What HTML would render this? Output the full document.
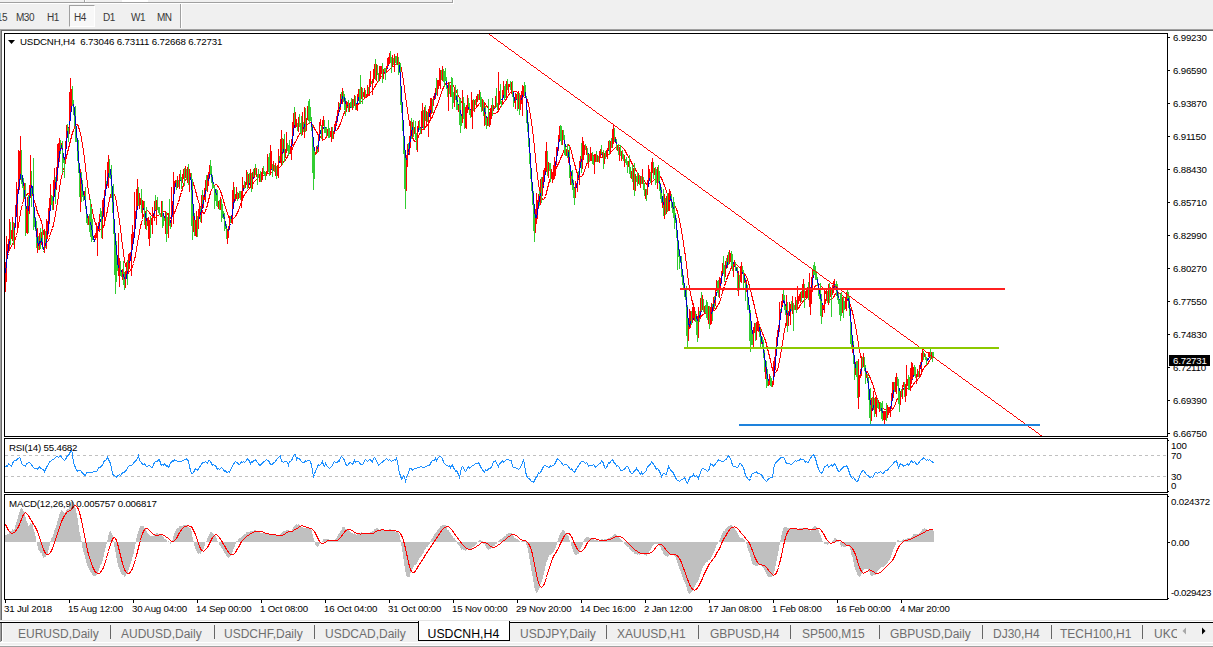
<!DOCTYPE html>
<html><head><meta charset="utf-8"><title>USDCNH,H4</title>
<style>
html,body{margin:0;padding:0}
body{width:1213px;height:647px;overflow:hidden;background:#f0f0f0;position:relative;font-family:"Liberation Sans",sans-serif;color:#000}
.abs{position:absolute}
.t{position:absolute;white-space:pre;font-size:9.7px;line-height:10px;height:10px;letter-spacing:-0.19px}
.tb{position:absolute;white-space:pre;font-size:10px;line-height:12px;height:12px;color:#383838;letter-spacing:-0.5px}
.tab{position:absolute;white-space:pre;font-size:12px;line-height:14px;height:14px;top:626.7px;color:#6e6e6e}
.sep{position:absolute;top:625px;width:1px;height:14px;background:#666}
svg{position:absolute;left:0;top:0}
</style></head><body>
<!-- toolbar -->
<div class="abs" style="left:0;top:2px;width:453px;height:1px;background:#a0a0a0"></div>
<div class="abs" style="left:0;top:3px;width:454px;height:1px;background:#fff"></div>
<div class="abs" style="left:452px;top:0;width:1px;height:3px;background:#a0a0a0"></div>
<div class="abs" style="left:453px;top:0;width:1px;height:4px;background:#fff"></div>
<div class="abs" style="left:84px;top:0;width:1px;height:2px;background:#a0a0a0"></div>
<div class="abs" style="left:85px;top:0;width:1px;height:2px;background:#fff"></div>
<div class="abs" style="left:122px;top:0;width:26px;height:2px;background:#fff"></div>
<div class="abs" style="left:180px;top:4px;width:1px;height:24px;background:#a0a0a0"></div>
<div class="abs" style="left:181px;top:4px;width:1px;height:24px;background:#fff"></div>
<div class="abs" style="left:69px;top:5px;width:24px;height:20px;background:#f8f8f8;border:1px solid;border-color:#a0a0a0 #fff #fff #a0a0a0"></div>
<div class="tb" style="left:-11px;top:12px">M15</div>
<div class="tb" style="left:16px;top:12px">M30</div>
<div class="tb" style="left:47px;top:12px">H1</div>
<div class="tb" style="left:74px;top:12px">H4</div>
<div class="tb" style="left:103px;top:12px">D1</div>
<div class="tb" style="left:131px;top:12px">W1</div>
<div class="tb" style="left:157px;top:12px">MN</div>
<!-- chart window frame -->
<div class="abs" style="left:0;top:29px;width:1213px;height:591px;background:#fff"></div>
<div class="abs" style="left:0;top:29px;width:1213px;height:1px;background:#a0a0a0"></div>
<div class="abs" style="left:1px;top:30px;width:1212px;height:1px;background:#696969"></div>
<div class="abs" style="left:0;top:29px;width:1px;height:591px;background:#a0a0a0"></div>
<div class="abs" style="left:1px;top:30px;width:1px;height:590px;background:#696969"></div>
<div class="abs" style="left:0;top:620px;width:1213px;height:1px;background:#e3e3e3"></div>
<div class="abs" style="left:0;top:621px;width:1213px;height:1px;background:#fff"></div>
<!-- tabs strip -->
<div class="abs" style="left:0;top:622px;width:1213px;height:1px;background:#000"></div>
<div class="abs" style="left:0;top:642px;width:1213px;height:1px;background:#fff"></div>
<div class="abs" style="left:0;top:645px;width:1213px;height:1px;background:#fafafa"></div>
<div class="abs" style="left:0;top:646px;width:1213px;height:1px;background:#a0a0a0"></div>
<div class="abs" style="left:0;top:623px;width:1px;height:19px;background:#a0a0a0"></div>
<div class="abs" style="left:1px;top:623px;width:1px;height:18px;background:#696969"></div>
<div class="abs" style="left:2px;top:623px;width:1px;height:19px;background:#fff"></div>
<div class="abs" style="left:418px;top:621px;width:90px;height:19px;background:#fff;border:1px solid #000;border-top:none"></div>
<div class="tab" style="left:18px">EURUSD,Daily</div><div class="sep" style="left:110px"></div>
<div class="tab" style="left:121px">AUDUSD,Daily</div><div class="sep" style="left:214px"></div>
<div class="tab" style="left:224px">USDCHF,Daily</div><div class="sep" style="left:314px"></div>
<div class="tab" style="left:325px">USDCAD,Daily</div>
<div class="tab" style="left:427.5px;color:#000;font-size:12.3px">USDCNH,H4</div>
<div class="tab" style="left:520px">USDJPY,Daily</div><div class="sep" style="left:606px"></div>
<div class="tab" style="left:617px">XAUUSD,H1</div><div class="sep" style="left:698px"></div>
<div class="tab" style="left:710px">GBPUSD,H4</div><div class="sep" style="left:790px"></div>
<div class="tab" style="left:802px">SP500,M15</div><div class="sep" style="left:879px"></div>
<div class="tab" style="left:890px">GBPUSD,Daily</div><div class="sep" style="left:982px"></div>
<div class="tab" style="left:993px">DJ30,H4</div><div class="sep" style="left:1051px"></div>
<div class="tab" style="left:1060px">TECH100,H1</div><div class="sep" style="left:1142px"></div>
<div class="tab" style="left:1154px;width:23px;overflow:hidden">UKOIL</div>
<svg width="1213" height="647" viewBox="0 0 1213 647" shape-rendering="crispEdges">
<g fill="none" stroke="#000" stroke-width="1">
<path d="M4.5 33.5H1167.5V436.5H4.5Z"/>
<path d="M4.5 438.5H1167.5V492.5H4.5Z"/>
<path d="M4.5 494.5H1167.5V599.5H4.5Z"/>
<path d="M1168 37.5h2M1168 70.5h2M1168 103.5h2M1168 136.5h2M1168 169.5h2M1168 202.5h2M1168 235.5h2M1168 268.5h2M1168 301.5h2M1168 334.5h2M1168 367.5h2M1168 400.5h2M1168 433.5h2"/>
<path d="M1168 440.5h1M1168 491.5h1M1168 496.5h1M1168 542.5h2M1168 598.5h1"/>
<path d="M5.5 600v3M69.5 600v3M133.5 600v3M197.5 600v3M261.5 600v3M325.5 600v3M389.5 600v3M453.5 600v3M517.5 600v3M581.5 600v3M645.5 600v3M709.5 600v3M773.5 600v3M837.5 600v3M901.5 600v3"/>
</g>
<path d="M5 455.5H1167M5 476.5H1167" stroke="#c0c0c0" stroke-width="1" stroke-dasharray="3 3" fill="none"/>
<polyline points="5.5,273.5 6.5,262.5 7.5,256.5 8.5,246.5 9.5,241.5 10.5,239.5 11.5,236.5 12.5,233.5 13.5,234.5 14.5,230.5 15.5,224.5 16.5,210.5 17.5,198.5 18.5,190.5 19.5,183.5 20.5,174.5 21.5,173.5 22.5,176.5 23.5,186.5 24.5,190.5 25.5,202.5 26.5,209.5 27.5,213.5 28.5,211.5 29.5,201.5 30.5,191.5 31.5,185.5 32.5,186.5 33.5,201.5 34.5,211.5 35.5,224.5 36.5,233.5 37.5,239.5 38.5,246.5 39.5,241.5 40.5,243.5 41.5,238.5 42.5,244.5 43.5,249.5 44.5,249.5 45.5,246.5 46.5,239.5 47.5,235.5 48.5,226.5 49.5,216.5 50.5,205.5 51.5,201.5 52.5,203.5 53.5,201.5 54.5,192.5 55.5,185.5 56.5,178.5 57.5,172.5 58.5,162.5 59.5,153.5 60.5,148.5 61.5,145.5 62.5,150.5 63.5,154.5 64.5,160.5 65.5,154.5 66.5,143.5 67.5,133.5 68.5,129.5 69.5,125.5 70.5,117.5 71.5,106.5 72.5,102.5 73.5,104.5 74.5,109.5 75.5,121.5 76.5,130.5 77.5,144.5 78.5,156.5 79.5,169.5 80.5,175.5 81.5,180.5 82.5,186.5 83.5,194.5 84.5,196.5 85.5,202.5 86.5,209.5 87.5,218.5 88.5,219.5 89.5,221.5 90.5,222.5 91.5,227.5 92.5,232.5 93.5,238.5 94.5,240.5 95.5,238.5 96.5,235.5 97.5,232.5 98.5,229.5 99.5,223.5 100.5,219.5 101.5,220.5 102.5,219.5 103.5,213.5 104.5,201.5 105.5,191.5 106.5,186.5 107.5,181.5 108.5,173.5 109.5,170.5 110.5,169.5 111.5,180.5 112.5,191.5 113.5,211.5 114.5,225.5 115.5,240.5 116.5,249.5 117.5,260.5 118.5,268.5 119.5,268.5 120.5,269.5 121.5,271.5 122.5,274.5 123.5,274.5 124.5,279.5 125.5,280.5 126.5,277.5 127.5,271.5 128.5,267.5 129.5,263.5 130.5,258.5 131.5,253.5 132.5,247.5 133.5,241.5 134.5,234.5 135.5,224.5 136.5,214.5 137.5,206.5 138.5,203.5 139.5,201.5 140.5,201.5 141.5,204.5 142.5,206.5 143.5,208.5 144.5,211.5 145.5,214.5 146.5,221.5 147.5,221.5 148.5,223.5 149.5,222.5 150.5,222.5 151.5,221.5 152.5,218.5 153.5,216.5 154.5,211.5 155.5,209.5 156.5,205.5 157.5,206.5 158.5,207.5 159.5,211.5 160.5,214.5 161.5,211.5 162.5,212.5 163.5,213.5 164.5,218.5 165.5,218.5 166.5,218.5 167.5,221.5 168.5,222.5 169.5,223.5 170.5,221.5 171.5,219.5 172.5,211.5 173.5,198.5 174.5,190.5 175.5,183.5 176.5,182.5 177.5,182.5 178.5,184.5 179.5,181.5 180.5,180.5 181.5,178.5 182.5,179.5 183.5,176.5 184.5,175.5 185.5,172.5 186.5,174.5 187.5,173.5 188.5,175.5 189.5,177.5 190.5,177.5 191.5,182.5 192.5,196.5 193.5,210.5 194.5,220.5 195.5,221.5 196.5,222.5 197.5,222.5 198.5,220.5 199.5,216.5 200.5,215.5 201.5,209.5 202.5,208.5 203.5,200.5 204.5,197.5 205.5,190.5 206.5,187.5 207.5,183.5 208.5,181.5 209.5,174.5 210.5,173.5 211.5,174.5 212.5,179.5 213.5,184.5 214.5,188.5 215.5,190.5 216.5,195.5 217.5,199.5 218.5,203.5 219.5,206.5 220.5,206.5 221.5,208.5 222.5,211.5 223.5,214.5 224.5,219.5 225.5,222.5 226.5,228.5 227.5,230.5 228.5,231.5 229.5,226.5 230.5,223.5 231.5,219.5 232.5,213.5 233.5,204.5 234.5,199.5 235.5,197.5 236.5,196.5 237.5,195.5 238.5,195.5 239.5,195.5 240.5,195.5 241.5,195.5 242.5,192.5 243.5,189.5 244.5,187.5 245.5,186.5 246.5,183.5 247.5,182.5 248.5,181.5 249.5,183.5 250.5,179.5 251.5,180.5 252.5,177.5 253.5,178.5 254.5,174.5 255.5,174.5 256.5,173.5 257.5,174.5 258.5,175.5 259.5,175.5 260.5,177.5 261.5,176.5 262.5,174.5 263.5,172.5 264.5,172.5 265.5,174.5 266.5,174.5 267.5,170.5 268.5,168.5 269.5,169.5 270.5,170.5 271.5,169.5 272.5,167.5 273.5,167.5 274.5,168.5 275.5,168.5 276.5,170.5 277.5,168.5 278.5,165.5 279.5,161.5 280.5,159.5 281.5,157.5 282.5,154.5 283.5,149.5 284.5,151.5 285.5,150.5 286.5,151.5 287.5,147.5 288.5,147.5 289.5,149.5 290.5,150.5 291.5,147.5 292.5,140.5 293.5,131.5 294.5,125.5 295.5,124.5 296.5,125.5 297.5,126.5 298.5,125.5 299.5,125.5 300.5,125.5 301.5,129.5 302.5,129.5 303.5,129.5 304.5,124.5 305.5,124.5 306.5,120.5 307.5,117.5 308.5,116.5 309.5,116.5 310.5,118.5 311.5,122.5 312.5,131.5 313.5,142.5 314.5,151.5 315.5,153.5 316.5,151.5 317.5,149.5 318.5,144.5 319.5,137.5 320.5,130.5 321.5,130.5 322.5,129.5 323.5,128.5 324.5,125.5 325.5,128.5 326.5,131.5 327.5,131.5 328.5,130.5 329.5,132.5 330.5,134.5 331.5,134.5 332.5,134.5 333.5,133.5 334.5,132.5 335.5,127.5 336.5,123.5 337.5,118.5 338.5,113.5 339.5,109.5 340.5,104.5 341.5,102.5 342.5,96.5 343.5,97.5 344.5,97.5 345.5,104.5 346.5,105.5 347.5,106.5 348.5,104.5 349.5,105.5 350.5,107.5 351.5,107.5 352.5,106.5 353.5,106.5 354.5,102.5 355.5,103.5 356.5,103.5 357.5,104.5 358.5,97.5 359.5,95.5 360.5,95.5 361.5,94.5 362.5,94.5 363.5,94.5 364.5,95.5 365.5,95.5 366.5,95.5 367.5,93.5 368.5,91.5 369.5,87.5 370.5,85.5 371.5,82.5 372.5,82.5 373.5,80.5 374.5,76.5 375.5,74.5 376.5,71.5 377.5,73.5 378.5,74.5 379.5,76.5 380.5,74.5 381.5,70.5 382.5,71.5 383.5,72.5 384.5,73.5 385.5,71.5 386.5,70.5 387.5,67.5 388.5,64.5 389.5,60.5 390.5,58.5 391.5,59.5 392.5,61.5 393.5,63.5 394.5,63.5 395.5,62.5 396.5,62.5 397.5,61.5 398.5,62.5 399.5,65.5 400.5,78.5 401.5,92.5 402.5,111.5 403.5,128.5 404.5,143.5 405.5,155.5 406.5,160.5 407.5,156.5 408.5,152.5 409.5,145.5 410.5,138.5 411.5,133.5 412.5,127.5 413.5,129.5 414.5,128.5 415.5,132.5 416.5,134.5 417.5,134.5 418.5,130.5 419.5,126.5 420.5,128.5 421.5,128.5 422.5,126.5 423.5,124.5 424.5,120.5 425.5,119.5 426.5,115.5 427.5,118.5 428.5,117.5 429.5,115.5 430.5,110.5 431.5,106.5 432.5,104.5 433.5,100.5 434.5,98.5 435.5,93.5 436.5,92.5 437.5,89.5 438.5,88.5 439.5,84.5 440.5,80.5 441.5,77.5 442.5,74.5 443.5,75.5 444.5,75.5 445.5,77.5 446.5,81.5 447.5,88.5 448.5,89.5 449.5,90.5 450.5,88.5 451.5,92.5 452.5,94.5 453.5,98.5 454.5,95.5 455.5,96.5 456.5,96.5 457.5,102.5 458.5,105.5 459.5,107.5 460.5,110.5 461.5,116.5 462.5,113.5 463.5,112.5 464.5,109.5 465.5,113.5 466.5,112.5 467.5,109.5 468.5,107.5 469.5,108.5 470.5,110.5 471.5,111.5 472.5,107.5 473.5,104.5 474.5,102.5 475.5,103.5 476.5,102.5 477.5,100.5 478.5,98.5 479.5,95.5 480.5,97.5 481.5,101.5 482.5,105.5 483.5,108.5 484.5,108.5 485.5,114.5 486.5,118.5 487.5,120.5 488.5,121.5 489.5,118.5 490.5,115.5 491.5,111.5 492.5,110.5 493.5,109.5 494.5,108.5 495.5,105.5 496.5,105.5 497.5,105.5 498.5,103.5 499.5,99.5 500.5,98.5 501.5,99.5 502.5,100.5 503.5,95.5 504.5,92.5 505.5,92.5 506.5,90.5 507.5,88.5 508.5,85.5 509.5,86.5 510.5,86.5 511.5,85.5 512.5,89.5 513.5,93.5 514.5,99.5 515.5,101.5 516.5,98.5 517.5,97.5 518.5,96.5 519.5,100.5 520.5,101.5 521.5,100.5 522.5,95.5 523.5,92.5 524.5,90.5 525.5,92.5 526.5,103.5 527.5,115.5 528.5,131.5 529.5,144.5 530.5,160.5 531.5,175.5 532.5,187.5 533.5,198.5 534.5,209.5 535.5,218.5 536.5,218.5 537.5,212.5 538.5,204.5 539.5,199.5 540.5,193.5 541.5,193.5 542.5,189.5 543.5,185.5 544.5,178.5 545.5,171.5 546.5,167.5 547.5,167.5 548.5,166.5 549.5,167.5 550.5,169.5 551.5,172.5 552.5,175.5 553.5,173.5 554.5,169.5 555.5,166.5 556.5,158.5 557.5,153.5 558.5,145.5 559.5,139.5 560.5,135.5 561.5,136.5 562.5,136.5 563.5,137.5 564.5,140.5 565.5,147.5 566.5,151.5 567.5,153.5 568.5,152.5 569.5,161.5 570.5,167.5 571.5,176.5 572.5,179.5 573.5,185.5 574.5,188.5 575.5,188.5 576.5,186.5 577.5,181.5 578.5,178.5 579.5,171.5 580.5,165.5 581.5,159.5 582.5,157.5 583.5,154.5 584.5,150.5 585.5,148.5 586.5,148.5 587.5,152.5 588.5,154.5 589.5,157.5 590.5,156.5 591.5,156.5 592.5,157.5 593.5,159.5 594.5,161.5 595.5,160.5 596.5,160.5 597.5,159.5 598.5,160.5 599.5,157.5 600.5,155.5 601.5,153.5 602.5,153.5 603.5,155.5 604.5,155.5 605.5,156.5 606.5,153.5 607.5,152.5 608.5,149.5 609.5,149.5 610.5,146.5 611.5,146.5 612.5,144.5 613.5,141.5 614.5,139.5 615.5,139.5 616.5,144.5 617.5,146.5 618.5,150.5 619.5,150.5 620.5,152.5 621.5,152.5 622.5,155.5 623.5,156.5 624.5,158.5 625.5,160.5 626.5,161.5 627.5,163.5 628.5,164.5 629.5,166.5 630.5,169.5 631.5,172.5 632.5,174.5 633.5,174.5 634.5,178.5 635.5,179.5 636.5,181.5 637.5,180.5 638.5,180.5 639.5,181.5 640.5,179.5 641.5,181.5 642.5,180.5 643.5,183.5 644.5,187.5 645.5,190.5 646.5,192.5 647.5,188.5 648.5,184.5 649.5,178.5 650.5,176.5 651.5,173.5 652.5,171.5 653.5,170.5 654.5,170.5 655.5,171.5 656.5,174.5 657.5,175.5 658.5,178.5 659.5,181.5 660.5,186.5 661.5,193.5 662.5,197.5 663.5,205.5 664.5,205.5 665.5,207.5 666.5,203.5 667.5,205.5 668.5,204.5 669.5,202.5 670.5,197.5 671.5,199.5 672.5,204.5 673.5,209.5 674.5,211.5 675.5,215.5 676.5,224.5 677.5,235.5 678.5,245.5 679.5,253.5 680.5,258.5 681.5,265.5 682.5,271.5 683.5,279.5 684.5,286.5 685.5,293.5 686.5,300.5 687.5,312.5 688.5,322.5 689.5,327.5 690.5,321.5 691.5,318.5 692.5,316.5 693.5,318.5 694.5,315.5 695.5,315.5 696.5,316.5 697.5,321.5 698.5,320.5 699.5,318.5 700.5,312.5 701.5,310.5 702.5,306.5 703.5,308.5 704.5,307.5 705.5,310.5 706.5,311.5 707.5,315.5 708.5,314.5 709.5,317.5 710.5,315.5 711.5,314.5 712.5,309.5 713.5,304.5 714.5,303.5 715.5,297.5 716.5,293.5 717.5,290.5 718.5,290.5 719.5,290.5 720.5,286.5 721.5,279.5 722.5,273.5 723.5,269.5 724.5,270.5 725.5,269.5 726.5,268.5 727.5,262.5 728.5,262.5 729.5,260.5 730.5,259.5 731.5,258.5 732.5,260.5 733.5,264.5 734.5,266.5 735.5,267.5 736.5,268.5 737.5,273.5 738.5,276.5 739.5,280.5 740.5,278.5 741.5,275.5 742.5,272.5 743.5,273.5 744.5,277.5 745.5,282.5 746.5,284.5 747.5,293.5 748.5,300.5 749.5,309.5 750.5,316.5 751.5,325.5 752.5,334.5 753.5,334.5 754.5,330.5 755.5,328.5 756.5,329.5 757.5,330.5 758.5,327.5 759.5,327.5 760.5,333.5 761.5,338.5 762.5,344.5 763.5,348.5 764.5,356.5 765.5,362.5 766.5,371.5 767.5,376.5 768.5,381.5 769.5,381.5 770.5,380.5 771.5,382.5 772.5,383.5 773.5,380.5 774.5,371.5 775.5,361.5 776.5,350.5 777.5,341.5 778.5,332.5 779.5,323.5 780.5,316.5 781.5,308.5 782.5,304.5 783.5,300.5 784.5,301.5 785.5,306.5 786.5,310.5 787.5,315.5 788.5,315.5 789.5,315.5 790.5,309.5 791.5,308.5 792.5,306.5 793.5,307.5 794.5,306.5 795.5,306.5 796.5,306.5 797.5,304.5 798.5,302.5 799.5,298.5 800.5,295.5 801.5,295.5 802.5,294.5 803.5,293.5 804.5,293.5 805.5,294.5 806.5,295.5 807.5,292.5 808.5,292.5 809.5,292.5 810.5,292.5 811.5,288.5 812.5,281.5 813.5,275.5 814.5,272.5 815.5,273.5 816.5,275.5 817.5,279.5 818.5,285.5 819.5,291.5 820.5,296.5 821.5,301.5 822.5,305.5 823.5,308.5 824.5,305.5 825.5,302.5 826.5,299.5 827.5,299.5 828.5,296.5 829.5,296.5 830.5,292.5 831.5,294.5 832.5,292.5 833.5,289.5 834.5,284.5 835.5,284.5 836.5,287.5 837.5,293.5 838.5,298.5 839.5,300.5 840.5,303.5 841.5,306.5 842.5,306.5 843.5,304.5 844.5,304.5 845.5,304.5 846.5,301.5 847.5,298.5 848.5,298.5 849.5,303.5 850.5,314.5 851.5,329.5 852.5,339.5 853.5,350.5 854.5,359.5 855.5,368.5 856.5,371.5 857.5,375.5 858.5,378.5 859.5,378.5 860.5,374.5 861.5,368.5 862.5,364.5 863.5,361.5 864.5,364.5 865.5,368.5 866.5,374.5 867.5,378.5 868.5,383.5 869.5,393.5 870.5,405.5 871.5,409.5 872.5,410.5 873.5,405.5 874.5,407.5 875.5,408.5 876.5,407.5 877.5,404.5 878.5,404.5 879.5,405.5 880.5,407.5 881.5,408.5 882.5,413.5 883.5,415.5 884.5,415.5 885.5,413.5 886.5,413.5 887.5,414.5 888.5,414.5 889.5,410.5 890.5,409.5 891.5,403.5 892.5,398.5 893.5,390.5 894.5,389.5 895.5,386.5 896.5,385.5 897.5,383.5 898.5,386.5 899.5,390.5 900.5,393.5 901.5,394.5 902.5,391.5 903.5,388.5 904.5,388.5 905.5,388.5 906.5,388.5 907.5,384.5 908.5,384.5 909.5,385.5 910.5,385.5 911.5,382.5 912.5,378.5 913.5,374.5 914.5,372.5 915.5,373.5 916.5,376.5 917.5,375.5 918.5,374.5 919.5,370.5 920.5,367.5 921.5,362.5 922.5,358.5 923.5,356.5 924.5,355.5 925.5,356.5 926.5,358.5 927.5,360.5 928.5,359.5 929.5,356.5 930.5,354.5 931.5,353.5 932.5,355.5 933.5,356.5" stroke="#0000cd" stroke-width="1" fill="none" />
<polyline points="5.5,273.5 6.5,262.5 7.5,256.5 8.5,253.5 9.5,249.5 10.5,247.5 11.5,246.5 12.5,243.5 13.5,243.5 14.5,241.5 15.5,238.5 16.5,235.5 17.5,231.5 18.5,224.5 19.5,219.5 20.5,212.5 21.5,207.5 22.5,204.5 23.5,200.5 24.5,197.5 25.5,196.5 26.5,195.5 27.5,193.5 28.5,193.5 29.5,193.5 30.5,191.5 31.5,192.5 32.5,193.5 33.5,198.5 34.5,201.5 35.5,204.5 36.5,208.5 37.5,212.5 38.5,214.5 39.5,216.5 40.5,219.5 41.5,221.5 42.5,226.5 43.5,232.5 44.5,236.5 45.5,240.5 46.5,241.5 47.5,241.5 48.5,240.5 49.5,237.5 50.5,233.5 51.5,230.5 52.5,228.5 53.5,224.5 54.5,219.5 55.5,214.5 56.5,208.5 57.5,202.5 58.5,195.5 59.5,188.5 60.5,181.5 61.5,176.5 62.5,173.5 63.5,170.5 64.5,166.5 65.5,161.5 66.5,156.5 67.5,152.5 68.5,148.5 69.5,144.5 70.5,140.5 71.5,136.5 72.5,132.5 73.5,130.5 74.5,127.5 75.5,125.5 76.5,124.5 77.5,124.5 78.5,126.5 79.5,130.5 80.5,133.5 81.5,138.5 82.5,144.5 83.5,151.5 84.5,158.5 85.5,167.5 86.5,175.5 87.5,184.5 88.5,190.5 89.5,196.5 90.5,202.5 91.5,206.5 92.5,211.5 93.5,216.5 94.5,220.5 95.5,223.5 96.5,226.5 97.5,228.5 98.5,229.5 99.5,229.5 100.5,229.5 101.5,229.5 102.5,228.5 103.5,226.5 104.5,223.5 105.5,219.5 106.5,214.5 107.5,210.5 108.5,204.5 109.5,199.5 110.5,195.5 111.5,193.5 112.5,192.5 113.5,193.5 114.5,194.5 115.5,197.5 116.5,202.5 117.5,208.5 118.5,214.5 119.5,221.5 120.5,228.5 121.5,237.5 122.5,245.5 123.5,252.5 124.5,260.5 125.5,265.5 126.5,268.5 127.5,270.5 128.5,271.5 129.5,271.5 130.5,270.5 131.5,268.5 132.5,266.5 133.5,263.5 134.5,259.5 135.5,255.5 136.5,249.5 137.5,242.5 138.5,237.5 139.5,232.5 140.5,226.5 141.5,222.5 142.5,219.5 143.5,215.5 144.5,213.5 145.5,211.5 146.5,210.5 147.5,210.5 148.5,211.5 149.5,212.5 150.5,214.5 151.5,215.5 152.5,216.5 153.5,217.5 154.5,216.5 155.5,217.5 156.5,216.5 157.5,215.5 158.5,215.5 159.5,214.5 160.5,213.5 161.5,212.5 162.5,212.5 163.5,211.5 164.5,211.5 165.5,211.5 166.5,212.5 167.5,214.5 168.5,214.5 169.5,216.5 170.5,218.5 171.5,217.5 172.5,216.5 173.5,214.5 174.5,212.5 175.5,210.5 176.5,207.5 177.5,204.5 178.5,202.5 179.5,198.5 180.5,194.5 181.5,192.5 182.5,188.5 183.5,184.5 184.5,182.5 185.5,179.5 186.5,178.5 187.5,178.5 188.5,177.5 189.5,177.5 190.5,176.5 191.5,177.5 192.5,180.5 193.5,183.5 194.5,187.5 195.5,190.5 196.5,194.5 197.5,198.5 198.5,201.5 199.5,204.5 200.5,207.5 201.5,209.5 202.5,211.5 203.5,213.5 204.5,213.5 205.5,210.5 206.5,208.5 207.5,204.5 208.5,200.5 209.5,196.5 210.5,192.5 211.5,189.5 212.5,188.5 213.5,185.5 214.5,185.5 215.5,184.5 216.5,184.5 217.5,185.5 218.5,187.5 219.5,188.5 220.5,191.5 221.5,193.5 222.5,197.5 223.5,200.5 224.5,204.5 225.5,207.5 226.5,210.5 227.5,213.5 228.5,216.5 229.5,218.5 230.5,219.5 231.5,220.5 232.5,219.5 233.5,218.5 234.5,217.5 235.5,216.5 236.5,214.5 237.5,212.5 238.5,210.5 239.5,207.5 240.5,204.5 241.5,201.5 242.5,199.5 243.5,196.5 244.5,194.5 245.5,193.5 246.5,191.5 247.5,190.5 248.5,189.5 249.5,188.5 250.5,186.5 251.5,185.5 252.5,184.5 253.5,182.5 254.5,181.5 255.5,180.5 256.5,179.5 257.5,178.5 258.5,177.5 259.5,177.5 260.5,176.5 261.5,176.5 262.5,175.5 263.5,175.5 264.5,174.5 265.5,174.5 266.5,174.5 267.5,173.5 268.5,173.5 269.5,173.5 270.5,172.5 271.5,172.5 272.5,171.5 273.5,170.5 274.5,170.5 275.5,170.5 276.5,170.5 277.5,169.5 278.5,168.5 279.5,167.5 280.5,166.5 281.5,165.5 282.5,163.5 283.5,161.5 284.5,161.5 285.5,159.5 286.5,158.5 287.5,156.5 288.5,154.5 289.5,153.5 290.5,152.5 291.5,150.5 292.5,148.5 293.5,145.5 294.5,143.5 295.5,141.5 296.5,140.5 297.5,137.5 298.5,135.5 299.5,134.5 300.5,132.5 301.5,131.5 302.5,129.5 303.5,128.5 304.5,126.5 305.5,125.5 306.5,125.5 307.5,124.5 308.5,123.5 309.5,123.5 310.5,122.5 311.5,123.5 312.5,124.5 313.5,126.5 314.5,128.5 315.5,130.5 316.5,131.5 317.5,133.5 318.5,135.5 319.5,135.5 320.5,136.5 321.5,138.5 322.5,138.5 323.5,139.5 324.5,139.5 325.5,138.5 326.5,136.5 327.5,134.5 328.5,132.5 329.5,132.5 330.5,131.5 331.5,130.5 332.5,131.5 333.5,131.5 334.5,131.5 335.5,130.5 336.5,130.5 337.5,129.5 338.5,127.5 339.5,125.5 340.5,123.5 341.5,120.5 342.5,117.5 343.5,114.5 344.5,112.5 345.5,110.5 346.5,108.5 347.5,106.5 348.5,105.5 349.5,103.5 350.5,103.5 351.5,103.5 352.5,103.5 353.5,103.5 354.5,103.5 355.5,105.5 356.5,105.5 357.5,105.5 358.5,103.5 359.5,103.5 360.5,102.5 361.5,101.5 362.5,100.5 363.5,99.5 364.5,98.5 365.5,97.5 366.5,97.5 367.5,96.5 368.5,95.5 369.5,93.5 370.5,92.5 371.5,91.5 372.5,90.5 373.5,88.5 374.5,87.5 375.5,85.5 376.5,83.5 377.5,82.5 378.5,80.5 379.5,79.5 380.5,77.5 381.5,76.5 382.5,75.5 383.5,74.5 384.5,73.5 385.5,72.5 386.5,72.5 387.5,71.5 388.5,70.5 389.5,69.5 390.5,68.5 391.5,67.5 392.5,66.5 393.5,66.5 394.5,65.5 395.5,64.5 396.5,63.5 397.5,62.5 398.5,62.5 399.5,62.5 400.5,65.5 401.5,68.5 402.5,74.5 403.5,81.5 404.5,88.5 405.5,96.5 406.5,103.5 407.5,110.5 408.5,116.5 409.5,122.5 410.5,128.5 411.5,133.5 412.5,137.5 413.5,139.5 414.5,141.5 415.5,141.5 416.5,141.5 417.5,139.5 418.5,136.5 419.5,133.5 420.5,132.5 421.5,130.5 422.5,129.5 423.5,129.5 424.5,127.5 425.5,127.5 426.5,125.5 427.5,125.5 428.5,123.5 429.5,121.5 430.5,119.5 431.5,118.5 432.5,116.5 433.5,113.5 434.5,111.5 435.5,108.5 436.5,106.5 437.5,104.5 438.5,101.5 439.5,98.5 440.5,95.5 441.5,92.5 442.5,89.5 443.5,87.5 444.5,85.5 445.5,83.5 446.5,82.5 447.5,83.5 448.5,82.5 449.5,82.5 450.5,82.5 451.5,83.5 452.5,84.5 453.5,86.5 454.5,87.5 455.5,89.5 456.5,91.5 457.5,94.5 458.5,96.5 459.5,97.5 460.5,99.5 461.5,102.5 462.5,102.5 463.5,104.5 464.5,106.5 465.5,107.5 466.5,107.5 467.5,109.5 468.5,109.5 469.5,110.5 470.5,111.5 471.5,111.5 472.5,110.5 473.5,109.5 474.5,108.5 475.5,108.5 476.5,107.5 477.5,106.5 478.5,104.5 479.5,103.5 480.5,103.5 481.5,103.5 482.5,102.5 483.5,102.5 484.5,102.5 485.5,104.5 486.5,105.5 487.5,107.5 488.5,108.5 489.5,109.5 490.5,110.5 491.5,111.5 492.5,113.5 493.5,113.5 494.5,113.5 495.5,113.5 496.5,112.5 497.5,112.5 498.5,110.5 499.5,108.5 500.5,107.5 501.5,105.5 502.5,104.5 503.5,102.5 504.5,101.5 505.5,100.5 506.5,98.5 507.5,96.5 508.5,95.5 509.5,93.5 510.5,92.5 511.5,91.5 512.5,91.5 513.5,91.5 514.5,91.5 515.5,91.5 516.5,91.5 517.5,92.5 518.5,92.5 519.5,94.5 520.5,95.5 521.5,95.5 522.5,96.5 523.5,96.5 524.5,97.5 525.5,97.5 526.5,98.5 527.5,100.5 528.5,104.5 529.5,109.5 530.5,115.5 531.5,122.5 532.5,129.5 533.5,137.5 534.5,147.5 535.5,157.5 536.5,167.5 537.5,175.5 538.5,183.5 539.5,189.5 540.5,193.5 541.5,197.5 542.5,199.5 543.5,199.5 544.5,198.5 545.5,196.5 546.5,192.5 547.5,188.5 548.5,184.5 549.5,180.5 550.5,178.5 551.5,176.5 552.5,175.5 553.5,173.5 554.5,171.5 555.5,169.5 556.5,167.5 557.5,165.5 558.5,163.5 559.5,161.5 560.5,158.5 561.5,156.5 562.5,154.5 563.5,151.5 564.5,149.5 565.5,147.5 566.5,146.5 567.5,145.5 568.5,144.5 569.5,146.5 570.5,148.5 571.5,151.5 572.5,156.5 573.5,160.5 574.5,163.5 575.5,167.5 576.5,171.5 577.5,173.5 578.5,175.5 579.5,175.5 580.5,176.5 581.5,176.5 582.5,175.5 583.5,173.5 584.5,170.5 585.5,167.5 586.5,164.5 587.5,162.5 588.5,160.5 589.5,158.5 590.5,156.5 591.5,154.5 592.5,154.5 593.5,155.5 594.5,155.5 595.5,155.5 596.5,156.5 597.5,157.5 598.5,158.5 599.5,158.5 600.5,157.5 601.5,157.5 602.5,157.5 603.5,157.5 604.5,157.5 605.5,157.5 606.5,156.5 607.5,155.5 608.5,154.5 609.5,153.5 610.5,152.5 611.5,151.5 612.5,150.5 613.5,149.5 614.5,148.5 615.5,147.5 616.5,146.5 617.5,146.5 618.5,146.5 619.5,145.5 620.5,146.5 621.5,146.5 622.5,147.5 623.5,148.5 624.5,149.5 625.5,151.5 626.5,153.5 627.5,155.5 628.5,156.5 629.5,158.5 630.5,160.5 631.5,162.5 632.5,164.5 633.5,165.5 634.5,167.5 635.5,169.5 636.5,171.5 637.5,172.5 638.5,174.5 639.5,175.5 640.5,176.5 641.5,178.5 642.5,178.5 643.5,179.5 644.5,181.5 645.5,182.5 646.5,184.5 647.5,183.5 648.5,183.5 649.5,183.5 650.5,182.5 651.5,182.5 652.5,181.5 653.5,180.5 654.5,179.5 655.5,179.5 656.5,178.5 657.5,177.5 658.5,176.5 659.5,175.5 660.5,176.5 661.5,178.5 662.5,180.5 663.5,183.5 664.5,185.5 665.5,188.5 666.5,191.5 667.5,194.5 668.5,196.5 669.5,197.5 670.5,199.5 671.5,201.5 672.5,202.5 673.5,204.5 674.5,205.5 675.5,207.5 676.5,208.5 677.5,212.5 678.5,215.5 679.5,220.5 680.5,224.5 681.5,230.5 682.5,236.5 683.5,243.5 684.5,250.5 685.5,256.5 686.5,264.5 687.5,273.5 688.5,281.5 689.5,288.5 690.5,293.5 691.5,298.5 692.5,302.5 693.5,306.5 694.5,309.5 695.5,312.5 696.5,315.5 697.5,317.5 698.5,319.5 699.5,319.5 700.5,317.5 701.5,316.5 702.5,314.5 703.5,314.5 704.5,313.5 705.5,313.5 706.5,313.5 707.5,313.5 708.5,313.5 709.5,313.5 710.5,312.5 711.5,311.5 712.5,311.5 713.5,310.5 714.5,310.5 715.5,309.5 716.5,307.5 717.5,305.5 718.5,304.5 719.5,302.5 720.5,299.5 721.5,296.5 722.5,292.5 723.5,288.5 724.5,286.5 725.5,282.5 726.5,280.5 727.5,276.5 728.5,274.5 729.5,272.5 730.5,269.5 731.5,267.5 732.5,265.5 733.5,264.5 734.5,264.5 735.5,264.5 736.5,264.5 737.5,265.5 738.5,266.5 739.5,267.5 740.5,268.5 741.5,269.5 742.5,270.5 743.5,272.5 744.5,273.5 745.5,275.5 746.5,276.5 747.5,279.5 748.5,282.5 749.5,286.5 750.5,289.5 751.5,294.5 752.5,298.5 753.5,302.5 754.5,306.5 755.5,311.5 756.5,315.5 757.5,319.5 758.5,322.5 759.5,325.5 760.5,328.5 761.5,330.5 762.5,333.5 763.5,335.5 764.5,338.5 765.5,340.5 766.5,344.5 767.5,348.5 768.5,352.5 769.5,356.5 770.5,360.5 771.5,365.5 772.5,369.5 773.5,371.5 774.5,372.5 775.5,372.5 776.5,371.5 777.5,369.5 778.5,366.5 779.5,360.5 780.5,355.5 781.5,349.5 782.5,343.5 783.5,336.5 784.5,330.5 785.5,325.5 786.5,320.5 787.5,317.5 788.5,314.5 789.5,312.5 790.5,310.5 791.5,309.5 792.5,308.5 793.5,308.5 794.5,308.5 795.5,309.5 796.5,309.5 797.5,309.5 798.5,308.5 799.5,306.5 800.5,304.5 801.5,303.5 802.5,302.5 803.5,300.5 804.5,299.5 805.5,299.5 806.5,298.5 807.5,296.5 808.5,295.5 809.5,294.5 810.5,293.5 811.5,292.5 812.5,290.5 813.5,289.5 814.5,287.5 815.5,285.5 816.5,285.5 817.5,284.5 818.5,283.5 819.5,284.5 820.5,285.5 821.5,286.5 822.5,287.5 823.5,288.5 824.5,290.5 825.5,292.5 826.5,294.5 827.5,296.5 828.5,297.5 829.5,298.5 830.5,299.5 831.5,299.5 832.5,298.5 833.5,297.5 834.5,295.5 835.5,293.5 836.5,293.5 837.5,292.5 838.5,292.5 839.5,293.5 840.5,293.5 841.5,295.5 842.5,295.5 843.5,296.5 844.5,297.5 845.5,298.5 846.5,299.5 847.5,300.5 848.5,301.5 849.5,303.5 850.5,305.5 851.5,308.5 852.5,312.5 853.5,316.5 854.5,321.5 855.5,326.5 856.5,331.5 857.5,337.5 858.5,343.5 859.5,349.5 860.5,355.5 861.5,359.5 862.5,363.5 863.5,365.5 864.5,367.5 865.5,370.5 866.5,371.5 867.5,371.5 868.5,374.5 869.5,376.5 870.5,378.5 871.5,381.5 872.5,383.5 873.5,386.5 874.5,390.5 875.5,393.5 876.5,396.5 877.5,399.5 878.5,401.5 879.5,404.5 880.5,406.5 881.5,407.5 882.5,408.5 883.5,408.5 884.5,409.5 885.5,409.5 886.5,410.5 887.5,410.5 888.5,410.5 889.5,411.5 890.5,411.5 891.5,410.5 892.5,409.5 893.5,407.5 894.5,406.5 895.5,403.5 896.5,400.5 897.5,398.5 898.5,397.5 899.5,395.5 900.5,393.5 901.5,392.5 902.5,390.5 903.5,389.5 904.5,389.5 905.5,388.5 906.5,388.5 907.5,388.5 908.5,388.5 909.5,388.5 910.5,388.5 911.5,387.5 912.5,385.5 913.5,384.5 914.5,382.5 915.5,381.5 916.5,381.5 917.5,379.5 918.5,378.5 919.5,377.5 920.5,375.5 921.5,373.5 922.5,370.5 923.5,368.5 924.5,367.5 925.5,365.5 926.5,365.5 927.5,364.5 928.5,362.5 929.5,360.5 930.5,359.5 931.5,357.5 932.5,357.5 933.5,356.5" stroke="#ff0000" stroke-width="1" fill="none" />
<path d="M5.5 262V292M6.5 236V282M7.5 244V254M8.5 239V246M9.5 219V250M11.5 230V239M12.5 217V241M14.5 223V249M15.5 205V228M16.5 182V212M17.5 189V229M18.5 150V192M19.5 151V190M20.5 136V180M24.5 183V199M26.5 209V233M27.5 197V234M29.5 185V214M30.5 155V198M32.5 188V193M37.5 228V253M39.5 233V250M41.5 232V245M44.5 229V253M46.5 219V249M47.5 221V239M48.5 208V234M49.5 198V224M50.5 184V208M53.5 180V210M54.5 168V193M56.5 167V190M57.5 144V181M58.5 143V168M59.5 138V162M61.5 143V149M65.5 141V161M66.5 125V144M69.5 92V134M70.5 78V117M71.5 89V109M80.5 169V212M84.5 191V200M88.5 216V225M94.5 235V238M95.5 233V240M96.5 223V238M97.5 226V256M98.5 222V229M99.5 214V232M102.5 200V239M103.5 198V217M104.5 190V226M105.5 170V196M107.5 162V186M108.5 155V188M118.5 233V276M119.5 258V287M122.5 269V280M125.5 271V288M126.5 262V276M128.5 254V274M129.5 253V269M130.5 252V257M131.5 234V276M132.5 225V249M133.5 232V244M134.5 192V237M135.5 211V226M136.5 189V214M137.5 179V210M139.5 193V209M140.5 198V205M142.5 200V219M143.5 201V208M145.5 216V229M147.5 218V226M148.5 217V239M149.5 220V246M151.5 218V225M152.5 207V234M153.5 213V217M154.5 201V221M156.5 200V225M161.5 201V217M165.5 211V234M168.5 213V238M171.5 187V227M172.5 201V210M173.5 172V224M174.5 181V192M175.5 180V184M177.5 176V188M179.5 174V189M182.5 174V183M183.5 169V179M185.5 166V178M187.5 167V183M189.5 169V192M190.5 173V180M193.5 214V232M195.5 220V236M196.5 211V237M198.5 209V229M199.5 204V217M201.5 195V223M203.5 195V208M204.5 188V200M205.5 180V202M207.5 175V192M208.5 172V186M209.5 165V179M218.5 201V209M220.5 197V210M227.5 229V244M228.5 226V238M229.5 216V230M231.5 215V223M232.5 190V224M233.5 182V207M235.5 194V201M236.5 187V199M238.5 193V199M241.5 191V208M242.5 177V201M243.5 185V188M245.5 182V188M246.5 170V185M248.5 174V188M250.5 169V186M252.5 172V189M254.5 168V178M256.5 168V177M259.5 174V182M261.5 172V182M262.5 168V180M266.5 171V176M267.5 154V173M270.5 145V175M271.5 151V169M273.5 161V171M275.5 163V176M277.5 165V176M278.5 149V178M280.5 139V163M281.5 130V166M283.5 139V153M285.5 149V158M286.5 132V153M290.5 146V154M291.5 139V160M292.5 122V146M293.5 113V133M295.5 112V128M296.5 119V127M298.5 117V132M302.5 112V135M304.5 107V138M306.5 118V131M307.5 106V120M315.5 152V155M316.5 146V154M318.5 135V152M319.5 122V139M320.5 119V126M322.5 120V141M323.5 116V126M327.5 129V133M330.5 132V137M331.5 127V142M333.5 131V139M334.5 124V134M335.5 121V127M336.5 116V125M337.5 110V122M338.5 102V115M340.5 94V110M342.5 88V104M346.5 101V112M347.5 102V105M349.5 105V112M352.5 99V110M354.5 95V106M356.5 104V110M357.5 94V111M358.5 89V99M361.5 87V99M363.5 92V97M364.5 88V98M366.5 94V98M367.5 85V97M369.5 79V96M370.5 71V86M372.5 79V95M373.5 69V83M374.5 64V79M376.5 64V81M379.5 66V81M380.5 66V79M381.5 66V74M383.5 69V79M386.5 66V72M387.5 58V68M388.5 57V65M389.5 53V64M392.5 55V67M394.5 54V72M397.5 53V65M406.5 155V191M407.5 144V167M409.5 136V155M410.5 121V148M412.5 122V136M414.5 127V134M417.5 126V152M418.5 121V128M421.5 111V134M422.5 103V127M424.5 107V130M426.5 111V126M428.5 109V137M429.5 106V115M430.5 98V119M431.5 98V114M433.5 96V106M434.5 93V99M435.5 88V99M437.5 80V96M438.5 80V89M439.5 68V86M440.5 70V89M442.5 66V81M448.5 82V111M450.5 85V97M454.5 87V107M458.5 105V112M462.5 90V123M465.5 107V128M466.5 105V129M467.5 95V113M471.5 92V117M472.5 100V129M474.5 100V112M476.5 96V107M477.5 94V102M479.5 90V100M482.5 99V111M484.5 103V126M487.5 117V126M489.5 112V127M490.5 108V125M491.5 105V119M493.5 105V111M495.5 96V108M498.5 72V109M499.5 91V105M502.5 90V105M503.5 81V96M506.5 81V100M508.5 84V93M509.5 84V87M511.5 82V94M514.5 101V103M515.5 93V109M516.5 94V99M518.5 91V109M520.5 96V110M521.5 91V104M522.5 85V116M523.5 86V97M535.5 209V233M536.5 193V224M537.5 200V219M538.5 194V209M540.5 179V205M542.5 177V196M543.5 170V186M544.5 168V177M545.5 151V174M546.5 142V172M548.5 162V178M551.5 169V179M552.5 172V183M553.5 165V180M554.5 157V179M555.5 161V176M556.5 147V165M557.5 147V152M558.5 135V151M559.5 126V140M562.5 130V145M566.5 149V156M568.5 150V163M570.5 171V185M575.5 181V198M576.5 183V185M577.5 175V192M579.5 161V185M580.5 156V168M582.5 137V169M583.5 141V160M584.5 145V155M586.5 146V155M588.5 154V168M590.5 147V161M591.5 153V161M594.5 154V174M595.5 154V162M597.5 155V162M599.5 151V163M600.5 149V157M602.5 152V157M604.5 153V164M606.5 150V157M607.5 148V159M608.5 141V150M610.5 141V154M612.5 129V148M613.5 124V144M615.5 137V143M617.5 145V151M619.5 147V161M621.5 151V161M624.5 155V167M628.5 161V167M631.5 171V179M633.5 168V190M635.5 174V191M638.5 175V184M640.5 176V188M642.5 169V184M645.5 189V199M647.5 180V195M648.5 165V183M649.5 169V179M651.5 162V185M652.5 158V173M654.5 168V175M657.5 167V189M662.5 199V208M664.5 194V219M666.5 196V214M668.5 193V211M669.5 189V211M670.5 191V196M688.5 323V341M689.5 309V329M690.5 311V328M692.5 307V323M693.5 303V318M694.5 307V321M698.5 307V338M700.5 298V317M702.5 295V310M704.5 306V313M708.5 306V324M710.5 307V325M711.5 303V324M713.5 297V311M715.5 289V306M716.5 280V291M719.5 277V298M720.5 278V288M721.5 271V284M722.5 263V276M725.5 261V277M727.5 255V268M729.5 250V264M730.5 253V262M733.5 265V277M734.5 260V266M736.5 267V271M738.5 271V296M740.5 266V282M741.5 262V283M744.5 278V283M746.5 280V292M753.5 327V349M754.5 323V333M756.5 322V340M757.5 319V331M758.5 323V332M761.5 340V344M765.5 365V379M768.5 381V386M769.5 374V385M772.5 381V387M773.5 361V385M774.5 357V377M775.5 347V370M776.5 337V352M777.5 330V340M778.5 325V334M779.5 302V332M781.5 301V313M782.5 294V305M786.5 295V326M788.5 311V326M789.5 302V314M790.5 304V325M792.5 296V314M795.5 297V310M797.5 286V310M798.5 296V304M799.5 294V301M800.5 292V303M802.5 284V298M803.5 279V298M805.5 291V298M806.5 290V299M807.5 287V296M809.5 273V307M810.5 287V315M811.5 277V304M812.5 269V288M822.5 305V317M823.5 305V309M824.5 289V313M825.5 299V304M826.5 290V301M828.5 284V305M830.5 287V297M832.5 285V295M833.5 281V293M834.5 279V289M842.5 297V313M845.5 297V309M846.5 292V311M852.5 341V353M855.5 362V375M858.5 359V409M859.5 375V397M860.5 369V378M861.5 356V376M863.5 353V366M866.5 373V378M871.5 398V421M873.5 391V410M875.5 397V414M876.5 396V417M879.5 402V412M883.5 411V420M884.5 411V424M885.5 411V420M887.5 405V418M888.5 407V415M889.5 407V413M890.5 407V417M891.5 393V409M892.5 382V397M893.5 382V398M895.5 377V392M896.5 373V394M900.5 391V405M902.5 385V399M903.5 382V387M905.5 384V402M906.5 365V396M907.5 379V386M910.5 368V391M911.5 362V384M912.5 363V379M913.5 367V375M916.5 374V384M917.5 369V377M919.5 365V376M920.5 362V368M921.5 353V372M922.5 349V362M924.5 353V357M927.5 358V359M928.5 352V357M929.5 352V357M931.5 352V357" stroke="#ff0000" stroke-width="1" fill="none"/>
<path d="M10.5 222V245M13.5 222V245M21.5 150V184M22.5 179V188M23.5 178V199M25.5 183V236M28.5 195V233M31.5 171V207M33.5 158V230M34.5 218V227M35.5 217V231M36.5 221V248M38.5 236V250M40.5 228V249M42.5 229V249M43.5 251V252M45.5 231V248M51.5 195V205M52.5 196V210M55.5 177V204M60.5 140V154M62.5 141V173M63.5 154V163M64.5 158V178M67.5 124V131M68.5 128V142M72.5 86V106M73.5 100V115M74.5 110V126M75.5 106V142M76.5 132V142M77.5 139V161M78.5 140V173M79.5 165V197M81.5 172V202M82.5 180V197M83.5 195V201M85.5 187V209M86.5 207V223M87.5 214V225M89.5 214V232M90.5 199V237M91.5 207V242M92.5 219V240M93.5 241V242M100.5 208V217M101.5 211V238M106.5 181V189M109.5 159V178M110.5 171V179M111.5 165V198M112.5 194V213M113.5 184V234M114.5 233V275M115.5 236V294M116.5 241V282M117.5 261V271M120.5 261V276M121.5 272V277M123.5 261V285M124.5 272V290M127.5 260V285M138.5 187V206M141.5 189V213M144.5 201V225M146.5 207V230M150.5 216V238M155.5 195V210M157.5 197V210M158.5 207V213M159.5 207V215M160.5 213V217M162.5 201V228M163.5 214V226M164.5 216V221M166.5 212V242M167.5 217V234M169.5 199V226M170.5 223V229M176.5 180V190M178.5 180V187M180.5 170V180M181.5 177V189M184.5 168V186M186.5 169V180M188.5 164V185M191.5 173V226M192.5 179V240M194.5 213V236M197.5 216V237M200.5 207V222M202.5 190V204M206.5 175V191M210.5 160V175M211.5 166V183M212.5 175V189M213.5 183V188M214.5 186V209M215.5 190V201M216.5 189V206M217.5 190V207M219.5 200V210M221.5 199V222M222.5 204V218M223.5 211V219M224.5 213V231M225.5 222V229M226.5 224V239M230.5 216V223M234.5 187V203M237.5 192V201M239.5 191V198M240.5 191V200M244.5 181V189M247.5 172V189M249.5 173V183M251.5 173V192M253.5 169V177M255.5 164V175M257.5 174V185M258.5 169V178M260.5 171V182M263.5 166V174M264.5 171V176M265.5 172V180M268.5 157V172M269.5 153V176M272.5 164V177M274.5 165V172M276.5 166V179M279.5 156V161M282.5 138V165M284.5 134V162M287.5 143V151M288.5 145V156M289.5 140V153M294.5 107V127M297.5 123V131M299.5 114V127M300.5 123V133M301.5 116V136M303.5 122V132M305.5 108V132M308.5 101V121M309.5 99V124M310.5 107V121M311.5 117V131M312.5 125V173M313.5 144V190M314.5 149V179M317.5 145V153M321.5 125V139M324.5 120V133M325.5 128V133M326.5 127V136M328.5 120V138M329.5 128V138M332.5 127V139M339.5 103V110M341.5 92V101M343.5 91V102M344.5 94V110M345.5 98V116M348.5 100V112M350.5 102V107M351.5 98V108M353.5 99V108M355.5 96V110M359.5 89V103M360.5 75V104M362.5 88V104M365.5 90V97M368.5 87V94M371.5 81V84M375.5 59V80M377.5 65V75M378.5 73V82M382.5 63V83M384.5 68V72M385.5 68V80M390.5 51V63M391.5 57V73M393.5 58V65M395.5 56V63M396.5 56V65M398.5 57V75M399.5 64V73M400.5 63V105M401.5 91V113M402.5 106V131M403.5 126V154M404.5 141V189M405.5 151V209M408.5 143V153M411.5 118V139M413.5 120V137M415.5 121V140M416.5 133V150M419.5 120V130M420.5 128V134M423.5 110V129M425.5 105V121M427.5 112V122M432.5 99V113M436.5 78V95M441.5 70V80M443.5 69V82M444.5 71V87M445.5 68V81M446.5 77V89M447.5 85V97M449.5 82V94M451.5 77V97M452.5 78V109M453.5 92V103M455.5 85V100M456.5 95V110M457.5 89V110M459.5 98V125M460.5 99V133M461.5 115V126M463.5 97V119M464.5 103V129M468.5 98V107M469.5 103V115M470.5 110V118M473.5 99V111M475.5 99V105M478.5 94V100M480.5 92V107M481.5 97V112M483.5 100V116M485.5 106V125M486.5 118V129M488.5 99V126M492.5 98V116M494.5 106V108M496.5 88V107M497.5 103V110M500.5 84V104M501.5 101V107M504.5 86V100M505.5 84V98M507.5 79V90M510.5 81V90M512.5 81V97M513.5 93V107M517.5 93V111M519.5 93V115M524.5 82V96M525.5 85V98M526.5 96V123M527.5 117V132M528.5 122V147M529.5 141V164M530.5 153V179M531.5 170V191M532.5 185V205M533.5 191V231M534.5 210V242M539.5 191V206M541.5 177V203M547.5 151V176M549.5 163V171M550.5 163V182M560.5 125V141M561.5 126V145M563.5 130V140M564.5 135V155M565.5 147V156M567.5 144V158M569.5 146V178M571.5 171V185M572.5 170V190M573.5 180V198M574.5 188V205M578.5 171V179M581.5 143V173M585.5 144V150M587.5 148V163M589.5 154V162M592.5 152V164M593.5 156V165M596.5 151V162M598.5 156V162M601.5 145V154M603.5 150V169M605.5 151V159M609.5 140V155M611.5 138V148M614.5 128V142M616.5 139V150M618.5 144V155M620.5 145V156M622.5 150V159M623.5 154V161M625.5 159V163M626.5 157V165M627.5 161V173M629.5 155V174M630.5 167V178M632.5 165V182M634.5 163V196M636.5 176V182M637.5 172V186M639.5 175V185M641.5 176V184M643.5 177V190M644.5 183V196M646.5 189V201M650.5 172V183M653.5 162V179M655.5 167V185M656.5 169V183M658.5 165V183M659.5 171V191M660.5 183V199M661.5 187V203M663.5 189V216M665.5 198V215M667.5 193V212M671.5 194V208M672.5 205V213M673.5 197V218M674.5 202V229M675.5 213V223M676.5 218V238M677.5 232V270M678.5 240V257M679.5 249V269M680.5 256V263M681.5 256V277M682.5 270V285M683.5 275V289M684.5 286V297M685.5 293V300M686.5 286V336M687.5 305V348M691.5 311V325M695.5 311V322M696.5 315V335M697.5 319V342M699.5 311V322M701.5 292V311M703.5 299V312M705.5 305V313M706.5 300V318M707.5 302V320M709.5 306V329M712.5 304V321M714.5 296V309M717.5 281V293M718.5 280V297M723.5 256V274M724.5 265V282M726.5 258V269M728.5 252V265M731.5 251V266M732.5 254V271M735.5 262V271M737.5 267V291M739.5 275V290M742.5 266V272M743.5 270V290M745.5 278V301M747.5 285V310M748.5 302V310M749.5 305V341M750.5 310V352M751.5 325V345M752.5 331V345M755.5 323V341M759.5 325V337M760.5 329V349M762.5 337V349M763.5 340V358M764.5 350V372M766.5 361V388M767.5 369V386M770.5 376V386M771.5 378V387M780.5 309V314M783.5 290V300M784.5 295V310M785.5 306V315M787.5 302V332M791.5 301V311M793.5 303V331M794.5 305V310M796.5 300V313M801.5 291V302M804.5 284V308M808.5 282V300M813.5 265V275M814.5 262V275M815.5 266V280M816.5 271V280M817.5 277V286M818.5 283V296M819.5 292V299M820.5 283V316M821.5 294V324M827.5 291V303M829.5 283V303M831.5 289V317M835.5 284V290M836.5 281V296M837.5 284V300M838.5 293V304M839.5 300V315M840.5 294V321M841.5 292V316M843.5 297V318M844.5 301V310M847.5 289V299M848.5 292V308M849.5 296V316M850.5 308V344M851.5 328V347M853.5 341V364M854.5 362V380M856.5 361V377M857.5 361V398M862.5 357V368M864.5 357V371M865.5 365V384M867.5 374V383M868.5 377V400M869.5 393V418M870.5 388V426M872.5 397V408M874.5 398V417M877.5 399V408M878.5 403V409M880.5 402V411M881.5 403V419M882.5 401V421M886.5 403V421M894.5 382V392M897.5 377V386M898.5 379V404M899.5 391V412M901.5 389V397M904.5 382V397M908.5 375V390M909.5 377V390M914.5 365V376M915.5 367V378M918.5 371V377M923.5 351V360M925.5 354V360M926.5 357V365M930.5 349V359M932.5 352V362M933.5 352V357" stroke="#32cd32" stroke-width="1" fill="none"/>
<path d="M5.5 273.5L6.5 262.5M6.5 262.5L7.5 256.5M7.5 256.5L8.5 246.5M8.5 246.5L9.5 241.5M14.5 230.5L15.5 224.5M15.5 224.5L16.5 210.5M16.5 210.5L17.5 198.5M17.5 198.5L18.5 190.5M18.5 190.5L19.5 183.5M19.5 183.5L20.5 174.5M22.5 176.5L23.5 186.5M24.5 190.5L25.5 202.5M25.5 202.5L26.5 209.5M28.5 211.5L29.5 201.5M29.5 201.5L30.5 191.5M30.5 191.5L31.5 185.5M32.5 186.5L33.5 201.5M33.5 201.5L34.5 211.5M34.5 211.5L35.5 224.5M35.5 224.5L36.5 233.5M36.5 233.5L37.5 239.5M37.5 239.5L38.5 246.5M38.5 246.5L39.5 241.5M40.5 243.5L41.5 238.5M41.5 238.5L42.5 244.5M42.5 244.5L43.5 249.5M45.5 246.5L46.5 239.5M47.5 235.5L48.5 226.5M48.5 226.5L49.5 216.5M49.5 216.5L50.5 205.5M53.5 201.5L54.5 192.5M54.5 192.5L55.5 185.5M55.5 185.5L56.5 178.5M56.5 178.5L57.5 172.5M57.5 172.5L58.5 162.5M58.5 162.5L59.5 153.5M59.5 153.5L60.5 148.5M61.5 145.5L62.5 150.5M63.5 154.5L64.5 160.5M64.5 160.5L65.5 154.5M65.5 154.5L66.5 143.5M66.5 143.5L67.5 133.5M69.5 125.5L70.5 117.5M70.5 117.5L71.5 106.5M73.5 104.5L74.5 109.5M74.5 109.5L75.5 121.5M75.5 121.5L76.5 130.5M76.5 130.5L77.5 144.5M77.5 144.5L78.5 156.5M78.5 156.5L79.5 169.5M79.5 169.5L80.5 175.5M80.5 175.5L81.5 180.5M81.5 180.5L82.5 186.5M82.5 186.5L83.5 194.5M84.5 196.5L85.5 202.5M85.5 202.5L86.5 209.5M86.5 209.5L87.5 218.5M90.5 222.5L91.5 227.5M91.5 227.5L92.5 232.5M92.5 232.5L93.5 238.5M98.5 229.5L99.5 223.5M102.5 219.5L103.5 213.5M103.5 213.5L104.5 201.5M104.5 201.5L105.5 191.5M105.5 191.5L106.5 186.5M106.5 186.5L107.5 181.5M107.5 181.5L108.5 173.5M110.5 169.5L111.5 180.5M111.5 180.5L112.5 191.5M112.5 191.5L113.5 211.5M113.5 211.5L114.5 225.5M114.5 225.5L115.5 240.5M115.5 240.5L116.5 249.5M116.5 249.5L117.5 260.5M117.5 260.5L118.5 268.5M123.5 274.5L124.5 279.5M126.5 277.5L127.5 271.5M129.5 263.5L130.5 258.5M130.5 258.5L131.5 253.5M131.5 253.5L132.5 247.5M132.5 247.5L133.5 241.5M133.5 241.5L134.5 234.5M134.5 234.5L135.5 224.5M135.5 224.5L136.5 214.5M136.5 214.5L137.5 206.5M145.5 214.5L146.5 221.5M153.5 216.5L154.5 211.5M163.5 213.5L164.5 218.5M171.5 219.5L172.5 211.5M172.5 211.5L173.5 198.5M173.5 198.5L174.5 190.5M174.5 190.5L175.5 183.5M190.5 177.5L191.5 182.5M191.5 182.5L192.5 196.5M192.5 196.5L193.5 210.5M193.5 210.5L194.5 220.5M200.5 215.5L201.5 209.5M202.5 208.5L203.5 200.5M204.5 197.5L205.5 190.5M208.5 181.5L209.5 174.5M211.5 174.5L212.5 179.5M212.5 179.5L213.5 184.5M215.5 190.5L216.5 195.5M223.5 214.5L224.5 219.5M225.5 222.5L226.5 228.5M228.5 231.5L229.5 226.5M231.5 219.5L232.5 213.5M232.5 213.5L233.5 204.5M233.5 204.5L234.5 199.5M282.5 154.5L283.5 149.5M291.5 147.5L292.5 140.5M292.5 140.5L293.5 131.5M293.5 131.5L294.5 125.5M303.5 129.5L304.5 124.5M311.5 122.5L312.5 131.5M312.5 131.5L313.5 142.5M313.5 142.5L314.5 151.5M317.5 149.5L318.5 144.5M318.5 144.5L319.5 137.5M319.5 137.5L320.5 130.5M334.5 132.5L335.5 127.5M336.5 123.5L337.5 118.5M337.5 118.5L338.5 113.5M339.5 109.5L340.5 104.5M341.5 102.5L342.5 96.5M344.5 97.5L345.5 104.5M357.5 104.5L358.5 97.5M399.5 65.5L400.5 78.5M400.5 78.5L401.5 92.5M401.5 92.5L402.5 111.5M402.5 111.5L403.5 128.5M403.5 128.5L404.5 143.5M404.5 143.5L405.5 155.5M405.5 155.5L406.5 160.5M408.5 152.5L409.5 145.5M409.5 145.5L410.5 138.5M410.5 138.5L411.5 133.5M411.5 133.5L412.5 127.5M429.5 115.5L430.5 110.5M434.5 98.5L435.5 93.5M446.5 81.5L447.5 88.5M456.5 96.5L457.5 102.5M460.5 110.5L461.5 116.5M484.5 108.5L485.5 114.5M502.5 100.5L503.5 95.5M513.5 93.5L514.5 99.5M521.5 100.5L522.5 95.5M525.5 92.5L526.5 103.5M526.5 103.5L527.5 115.5M527.5 115.5L528.5 131.5M528.5 131.5L529.5 144.5M529.5 144.5L530.5 160.5M530.5 160.5L531.5 175.5M531.5 175.5L532.5 187.5M532.5 187.5L533.5 198.5M533.5 198.5L534.5 209.5M534.5 209.5L535.5 218.5M536.5 218.5L537.5 212.5M537.5 212.5L538.5 204.5M538.5 204.5L539.5 199.5M539.5 199.5L540.5 193.5M543.5 185.5L544.5 178.5M544.5 178.5L545.5 171.5M555.5 166.5L556.5 158.5M556.5 158.5L557.5 153.5M557.5 153.5L558.5 145.5M558.5 145.5L559.5 139.5M564.5 140.5L565.5 147.5M568.5 152.5L569.5 161.5M569.5 161.5L570.5 167.5M570.5 167.5L571.5 176.5M572.5 179.5L573.5 185.5M576.5 186.5L577.5 181.5M578.5 178.5L579.5 171.5M579.5 171.5L580.5 165.5M580.5 165.5L581.5 159.5M615.5 139.5L616.5 144.5M648.5 184.5L649.5 178.5M659.5 181.5L660.5 186.5M660.5 186.5L661.5 193.5M662.5 197.5L663.5 205.5M669.5 202.5L670.5 197.5M671.5 199.5L672.5 204.5M672.5 204.5L673.5 209.5M675.5 215.5L676.5 224.5M676.5 224.5L677.5 235.5M677.5 235.5L678.5 245.5M678.5 245.5L679.5 253.5M679.5 253.5L680.5 258.5M680.5 258.5L681.5 265.5M681.5 265.5L682.5 271.5M682.5 271.5L683.5 279.5M683.5 279.5L684.5 286.5M684.5 286.5L685.5 293.5M685.5 293.5L686.5 300.5M686.5 300.5L687.5 312.5M687.5 312.5L688.5 322.5M688.5 322.5L689.5 327.5M689.5 327.5L690.5 321.5M696.5 316.5L697.5 321.5M699.5 318.5L700.5 312.5M711.5 314.5L712.5 309.5M712.5 309.5L713.5 304.5M714.5 303.5L715.5 297.5M720.5 286.5L721.5 279.5M721.5 279.5L722.5 273.5M726.5 268.5L727.5 262.5M736.5 268.5L737.5 273.5M744.5 277.5L745.5 282.5M746.5 284.5L747.5 293.5M747.5 293.5L748.5 300.5M748.5 300.5L749.5 309.5M749.5 309.5L750.5 316.5M750.5 316.5L751.5 325.5M751.5 325.5L752.5 334.5M759.5 327.5L760.5 333.5M760.5 333.5L761.5 338.5M761.5 338.5L762.5 344.5M763.5 348.5L764.5 356.5M764.5 356.5L765.5 362.5M765.5 362.5L766.5 371.5M766.5 371.5L767.5 376.5M767.5 376.5L768.5 381.5M773.5 380.5L774.5 371.5M774.5 371.5L775.5 361.5M775.5 361.5L776.5 350.5M776.5 350.5L777.5 341.5M777.5 341.5L778.5 332.5M778.5 332.5L779.5 323.5M779.5 323.5L780.5 316.5M780.5 316.5L781.5 308.5M784.5 301.5L785.5 306.5M786.5 310.5L787.5 315.5M789.5 315.5L790.5 309.5M811.5 288.5L812.5 281.5M812.5 281.5L813.5 275.5M817.5 279.5L818.5 285.5M818.5 285.5L819.5 291.5M819.5 291.5L820.5 296.5M820.5 296.5L821.5 301.5M833.5 289.5L834.5 284.5M836.5 287.5L837.5 293.5M837.5 293.5L838.5 298.5M848.5 298.5L849.5 303.5M849.5 303.5L850.5 314.5M850.5 314.5L851.5 329.5M851.5 329.5L852.5 339.5M852.5 339.5L853.5 350.5M853.5 350.5L854.5 359.5M854.5 359.5L855.5 368.5M860.5 374.5L861.5 368.5M865.5 368.5L866.5 374.5M867.5 378.5L868.5 383.5M868.5 383.5L869.5 393.5M869.5 393.5L870.5 405.5M872.5 410.5L873.5 405.5M881.5 408.5L882.5 413.5M890.5 409.5L891.5 403.5M891.5 403.5L892.5 398.5M892.5 398.5L893.5 390.5M920.5 367.5L921.5 362.5" stroke="#0000cd" stroke-width="1" fill="none"/>
<path d="M5.5 535V542M6.5 535V542M7.5 534V542M8.5 534V542M9.5 532V542M10.5 531V542M11.5 531V542M12.5 529V542M13.5 530V542M14.5 529V542M15.5 525V542M16.5 522V542M17.5 519V542M18.5 515V542M19.5 512V542M20.5 509V542M21.5 508V542M22.5 509V542M23.5 511V542M24.5 512V542M25.5 517V542M26.5 521V542M27.5 523V542M28.5 526V542M29.5 525V542M30.5 523V542M31.5 524V542M32.5 524V542M33.5 529V542M34.5 532V542M35.5 536V542M37.5 542V546M38.5 542V550M39.5 542V551M40.5 542V553M41.5 542V553M42.5 542V556M43.5 542V558M44.5 542V557M45.5 542V557M46.5 542V555M47.5 542V554M48.5 542V550M49.5 542V546M50.5 541V542M51.5 538V542M52.5 537V542M53.5 534V542M54.5 530V542M55.5 528V542M56.5 525V542M57.5 521V542M58.5 518V542M59.5 514V542M60.5 512V542M61.5 510V542M62.5 511V542M63.5 512V542M64.5 513V542M65.5 512V542M66.5 510V542M67.5 509V542M68.5 509V542M69.5 507V542M70.5 504V542M71.5 502V542M72.5 501V542M73.5 502V542M74.5 504V542M75.5 508V542M76.5 513V542M77.5 518V542M78.5 525V542M79.5 532V542M80.5 536V542M81.5 541V542M82.5 542V548M83.5 542V552M84.5 542V555M85.5 542V559M86.5 542V563M87.5 542V566M88.5 542V568M89.5 542V570M90.5 542V572M91.5 542V573M92.5 542V575M93.5 542V576M94.5 542V576M95.5 542V576M96.5 542V575M97.5 542V573M98.5 542V571M99.5 542V568M100.5 542V565M101.5 542V564M102.5 542V561M103.5 542V557M104.5 542V552M105.5 542V548M106.5 542V544M107.5 540V542M108.5 535V542M109.5 532V542M110.5 531V542M111.5 533V542M112.5 535V542M113.5 541V542M114.5 542V547M115.5 542V552M116.5 542V558M117.5 542V563M118.5 542V567M119.5 542V569M120.5 542V572M121.5 542V574M122.5 542V575M123.5 542V575M124.5 542V577M125.5 542V576M126.5 542V574M127.5 542V573M128.5 542V570M129.5 542V567M130.5 542V564M131.5 542V561M132.5 542V557M133.5 542V554M134.5 542V549M135.5 542V544M136.5 538V542M137.5 534V542M138.5 531V542M139.5 528V542M140.5 526V542M141.5 526V542M142.5 526V542M143.5 526V542M144.5 528V542M145.5 529V542M146.5 531V542M147.5 533V542M148.5 534V542M149.5 535V542M150.5 536V542M151.5 536V542M152.5 536V542M153.5 536V542M154.5 534V542M155.5 534V542M156.5 533V542M157.5 533V542M158.5 534V542M159.5 534V542M160.5 535V542M161.5 535V542M162.5 536V542M163.5 537V542M164.5 539V542M165.5 539V542M166.5 540V542M168.5 541V542M170.5 542V544M172.5 540V542M173.5 536V542M174.5 533V542M175.5 531V542M176.5 529V542M177.5 528V542M178.5 528V542M179.5 526V542M180.5 526V542M181.5 526V542M182.5 526V542M183.5 525V542M184.5 525V542M185.5 525V542M186.5 525V542M187.5 525V542M188.5 527V542M189.5 528V542M190.5 528V542M191.5 531V542M192.5 537V542M193.5 541V542M194.5 542V546M195.5 542V549M196.5 542V551M197.5 542V553M198.5 542V554M199.5 542V553M200.5 542V554M201.5 542V552M202.5 542V550M203.5 542V549M204.5 542V546M206.5 541V542M207.5 538V542M208.5 536V542M209.5 534V542M210.5 532V542M211.5 532V542M212.5 533V542M213.5 534V542M214.5 535V542M215.5 536V542M216.5 538V542M217.5 541V542M219.5 542V545M220.5 542V546M221.5 542V548M222.5 542V549M223.5 542V551M224.5 542V553M225.5 542V554M226.5 542V556M227.5 542V557M228.5 542V558M229.5 542V557M230.5 542V556M231.5 542V555M232.5 542V552M233.5 542V549M234.5 542V547M235.5 542V544M236.5 541V542M237.5 541V542M238.5 539V542M239.5 538V542M240.5 538V542M241.5 537V542M242.5 536V542M243.5 535V542M244.5 534V542M245.5 534V542M246.5 532V542M247.5 532V542M248.5 532V542M249.5 532V542M250.5 531V542M251.5 531V542M252.5 531V542M253.5 531V542M254.5 530V542M255.5 530V542M256.5 531V542M257.5 531V542M258.5 531V542M259.5 532V542M260.5 533V542M261.5 533V542M262.5 533V542M263.5 533V542M264.5 533V542M265.5 534V542M266.5 534V542M267.5 533V542M268.5 534V542M269.5 534V542M270.5 534V542M271.5 534V542M272.5 534V542M273.5 534V542M274.5 535V542M275.5 535V542M276.5 536V542M277.5 536V542M278.5 535V542M279.5 535V542M280.5 534V542M281.5 533V542M282.5 532V542M283.5 531V542M284.5 531V542M285.5 531V542M286.5 530V542M287.5 530V542M288.5 530V542M289.5 531V542M290.5 531V542M291.5 531V542M292.5 529V542M293.5 527V542M294.5 526V542M295.5 525V542M296.5 524V542M297.5 525V542M298.5 524V542M299.5 525V542M300.5 526V542M301.5 527V542M302.5 527V542M303.5 528V542M304.5 528V542M305.5 528V542M306.5 528V542M307.5 527V542M308.5 527V542M309.5 528V542M310.5 529V542M311.5 530V542M312.5 534V542M313.5 538V542M314.5 541V542M315.5 542V545M316.5 542V546M317.5 542V547M318.5 542V546M319.5 542V544M322.5 541V542M323.5 539V542M324.5 539V542M325.5 539V542M326.5 539V542M327.5 539V542M328.5 539V542M329.5 540V542M330.5 541V542M331.5 541V542M332.5 541V542M333.5 541V542M334.5 540V542M335.5 539V542M336.5 538V542M337.5 536V542M338.5 534V542M339.5 533V542M340.5 531V542M341.5 530V542M342.5 527V542M343.5 527V542M344.5 527V542M345.5 529V542M346.5 529V542M347.5 529V542M348.5 530V542M349.5 531V542M350.5 532V542M351.5 533V542M352.5 533V542M353.5 534V542M354.5 533V542M355.5 534V542M356.5 535V542M357.5 534V542M358.5 533V542M359.5 533V542M360.5 533V542M361.5 532V542M362.5 533V542M363.5 533V542M364.5 533V542M365.5 534V542M366.5 534V542M367.5 534V542M368.5 533V542M369.5 533V542M370.5 532V542M371.5 532V542M372.5 531V542M373.5 531V542M374.5 529V542M375.5 529V542M376.5 528V542M377.5 528V542M378.5 529V542M379.5 530V542M380.5 529V542M381.5 529V542M382.5 530V542M383.5 530V542M384.5 531V542M385.5 531V542M386.5 531V542M387.5 531V542M388.5 531V542M389.5 529V542M390.5 529V542M391.5 530V542M392.5 530V542M393.5 531V542M394.5 531V542M395.5 532V542M396.5 532V542M397.5 532V542M398.5 533V542M399.5 535V542M400.5 540V542M401.5 542V546M402.5 542V552M403.5 542V559M404.5 542V566M405.5 542V572M406.5 542V576M407.5 542V577M408.5 542V577M409.5 542V577M410.5 542V573M411.5 542V572M412.5 542V569M413.5 542V567M414.5 542V565M415.5 542V565M416.5 542V564M417.5 542V562M418.5 542V560M419.5 542V558M420.5 542V557M421.5 542V556M422.5 542V554M423.5 542V553M424.5 542V550M425.5 542V549M426.5 542V547M427.5 542V547M428.5 542V545M429.5 542V544M430.5 541V542M431.5 539V542M432.5 538V542M433.5 536V542M434.5 534V542M435.5 533V542M436.5 532V542M437.5 530V542M438.5 529V542M439.5 528V542M440.5 526V542M441.5 526V542M442.5 525V542M443.5 525V542M444.5 525V542M445.5 525V542M446.5 527V542M447.5 530V542M448.5 530V542M449.5 532V542M450.5 533V542M451.5 535V542M452.5 536V542M453.5 538V542M454.5 538V542M455.5 540V542M456.5 541V542M457.5 542V544M458.5 542V545M459.5 542V546M460.5 542V548M461.5 542V550M462.5 542V549M463.5 542V550M464.5 542V550M465.5 542V551M466.5 542V550M467.5 542V549M468.5 542V549M469.5 542V549M470.5 542V549M471.5 542V549M472.5 542V547M473.5 542V547M474.5 542V546M475.5 542V545M476.5 542V544M478.5 541V542M479.5 540V542M480.5 540V542M481.5 541V542M482.5 541V542M483.5 542V544M484.5 542V544M485.5 542V546M486.5 542V548M487.5 542V549M488.5 542V550M489.5 542V549M490.5 542V549M491.5 542V548M492.5 542V547M493.5 542V546M494.5 542V546M495.5 542V544M496.5 542V544M498.5 541V542M499.5 540V542M500.5 539V542M501.5 539V542M502.5 538V542M503.5 537V542M504.5 536V542M505.5 536V542M506.5 534V542M507.5 534V542M508.5 533V542M509.5 533V542M510.5 533V542M511.5 533V542M512.5 534V542M513.5 536V542M514.5 538V542M515.5 538V542M516.5 539V542M517.5 539V542M518.5 540V542M519.5 541V542M521.5 541V542M522.5 541V542M523.5 540V542M524.5 540V542M525.5 540V542M526.5 542V545M527.5 542V548M528.5 542V553M529.5 542V559M530.5 542V565M531.5 542V571M532.5 542V576M533.5 542V582M534.5 542V588M535.5 542V591M536.5 542V593M537.5 542V592M538.5 542V590M539.5 542V588M540.5 542V584M541.5 542V582M542.5 542V579M543.5 542V575M544.5 542V571M545.5 542V566M546.5 542V562M547.5 542V560M548.5 542V557M549.5 542V555M550.5 542V555M551.5 542V554M552.5 542V553M553.5 542V552M554.5 542V550M555.5 542V548M556.5 542V545M557.5 541V542M558.5 538V542M559.5 535V542M560.5 533V542M561.5 532V542M562.5 530V542M563.5 530V542M564.5 531V542M565.5 533V542M566.5 534V542M567.5 535V542M568.5 536V542M569.5 540V542M571.5 542V546M572.5 542V549M573.5 542V552M574.5 542V554M575.5 542V555M576.5 542V555M577.5 542V554M578.5 542V554M579.5 542V551M580.5 542V549M581.5 542V547M582.5 542V545M583.5 541V542M584.5 539V542M585.5 538V542M586.5 537V542M587.5 537V542M588.5 537V542M589.5 538V542M590.5 538V542M591.5 538V542M592.5 538V542M593.5 539V542M594.5 540V542M595.5 540V542M596.5 540V542M597.5 540V542M598.5 541V542M599.5 540V542M600.5 540V542M601.5 539V542M602.5 539V542M603.5 540V542M604.5 539V542M605.5 539V542M606.5 539V542M607.5 539V542M608.5 538V542M609.5 538V542M610.5 537V542M611.5 537V542M612.5 536V542M613.5 535V542M614.5 534V542M615.5 534V542M616.5 535V542M617.5 536V542M618.5 537V542M619.5 538V542M620.5 539V542M621.5 540V542M622.5 541V542M624.5 542V544M625.5 542V545M626.5 542V546M627.5 542V547M628.5 542V547M629.5 542V549M630.5 542V550M631.5 542V551M632.5 542V552M633.5 542V552M634.5 542V554M635.5 542V554M636.5 542V554M637.5 542V555M638.5 542V554M639.5 542V555M640.5 542V554M641.5 542V554M642.5 542V554M643.5 542V554M644.5 542V555M645.5 542V555M646.5 542V556M647.5 542V554M648.5 542V553M649.5 542V551M650.5 542V550M651.5 542V548M652.5 542V546M653.5 542V545M654.5 542V544M655.5 542V544M656.5 542V544M657.5 542V544M658.5 542V544M659.5 542V546M660.5 542V547M661.5 542V550M662.5 542V551M663.5 542V554M664.5 542V555M665.5 542V556M666.5 542V556M667.5 542V557M668.5 542V556M669.5 542V555M670.5 542V554M671.5 542V554M672.5 542V555M673.5 542V555M674.5 542V556M675.5 542V557M676.5 542V560M677.5 542V563M678.5 542V566M679.5 542V569M680.5 542V571M681.5 542V574M682.5 542V577M683.5 542V580M684.5 542V582M685.5 542V584M686.5 542V587M687.5 542V591M688.5 542V593M689.5 542V594M690.5 542V593M691.5 542V592M692.5 542V591M693.5 542V589M694.5 542V587M695.5 542V585M696.5 542V583M697.5 542V582M698.5 542V580M699.5 542V577M700.5 542V574M701.5 542V571M702.5 542V568M703.5 542V566M704.5 542V565M705.5 542V563M706.5 542V562M707.5 542V562M708.5 542V560M709.5 542V560M710.5 542V559M711.5 542V557M712.5 542V555M713.5 542V553M714.5 542V551M715.5 542V548M716.5 542V545M717.5 542V544M719.5 540V542M720.5 538V542M721.5 535V542M722.5 533V542M723.5 531V542M724.5 531V542M725.5 529V542M726.5 528V542M727.5 527V542M728.5 526V542M729.5 526V542M730.5 525V542M731.5 525V542M732.5 526V542M733.5 527V542M734.5 528V542M735.5 530V542M736.5 531V542M737.5 533V542M738.5 535V542M739.5 537V542M740.5 538V542M741.5 538V542M742.5 538V542M743.5 539V542M744.5 540V542M746.5 542V544M747.5 542V548M748.5 542V551M749.5 542V553M750.5 542V557M751.5 542V561M752.5 542V564M753.5 542V565M754.5 542V565M755.5 542V566M756.5 542V566M757.5 542V566M758.5 542V565M759.5 542V564M760.5 542V565M761.5 542V566M762.5 542V567M763.5 542V568M764.5 542V570M765.5 542V572M766.5 542V574M767.5 542V576M768.5 542V577M769.5 542V577M770.5 542V577M771.5 542V577M772.5 542V576M773.5 542V574M774.5 542V571M775.5 542V566M776.5 542V561M777.5 542V556M778.5 542V551M779.5 542V545M780.5 540V542M781.5 535V542M782.5 531V542M783.5 528V542M784.5 527V542M785.5 527V542M786.5 527V542M787.5 528V542M788.5 528V542M789.5 528V542M790.5 528V542M791.5 528V542M792.5 528V542M793.5 528V542M794.5 529V542M795.5 529V542M796.5 529V542M797.5 529V542M798.5 529V542M799.5 528V542M800.5 528V542M801.5 528V542M802.5 528V542M803.5 528V542M804.5 528V542M805.5 529V542M806.5 529V542M807.5 529V542M808.5 530V542M809.5 530V542M810.5 531V542M811.5 530V542M812.5 528V542M813.5 527V542M814.5 526V542M815.5 526V542M816.5 527V542M817.5 528V542M818.5 530V542M819.5 533V542M820.5 535V542M821.5 538V542M822.5 541V542M824.5 542V544M825.5 542V544M826.5 542V544M827.5 542V545M828.5 542V544M832.5 541V542M833.5 540V542M834.5 538V542M835.5 538V542M836.5 539V542M837.5 540V542M838.5 541V542M840.5 542V545M841.5 542V547M842.5 542V546M843.5 542V547M844.5 542V547M845.5 542V547M846.5 542V546M847.5 542V546M848.5 542V545M849.5 542V547M850.5 542V550M851.5 542V555M852.5 542V557M853.5 542V562M854.5 542V567M855.5 542V570M856.5 542V572M857.5 542V575M858.5 542V576M859.5 542V577M860.5 542V576M861.5 542V574M862.5 542V572M863.5 542V570M864.5 542V569M865.5 542V569M866.5 542V569M867.5 542V569M868.5 542V570M869.5 542V572M870.5 542V575M871.5 542V576M872.5 542V576M873.5 542V575M874.5 542V575M875.5 542V575M876.5 542V573M877.5 542V571M878.5 542V570M879.5 542V569M880.5 542V568M881.5 542V567M882.5 542V567M883.5 542V567M884.5 542V566M885.5 542V565M886.5 542V564M887.5 542V563M888.5 542V561M889.5 542V560M890.5 542V558M891.5 542V555M892.5 542V552M893.5 542V549M894.5 542V547M895.5 542V545M897.5 540V542M898.5 540V542M899.5 541V542M900.5 541V542M901.5 541V542M902.5 540V542M903.5 539V542M904.5 540V542M905.5 539V542M906.5 539V542M907.5 538V542M908.5 538V542M909.5 538V542M910.5 538V542M911.5 537V542M912.5 536V542M913.5 534V542M914.5 534V542M915.5 534V542M916.5 534V542M917.5 534V542M918.5 534V542M919.5 533V542M920.5 532V542M921.5 531V542M922.5 529V542M923.5 529V542M924.5 528V542M925.5 529V542M926.5 529V542M927.5 530V542M928.5 530V542M929.5 529V542M930.5 530V542M931.5 530V542M932.5 530V542M933.5 531V542" stroke="#c0c0c0" stroke-width="1" fill="none"/>
<polyline points="5.5,524.5 6.5,526.5 7.5,528.5 8.5,530.5 9.5,531.5 10.5,532.5 11.5,533.5 12.5,533.5 13.5,532.5 14.5,532.5 15.5,531.5 16.5,529.5 17.5,528.5 18.5,526.5 19.5,524.5 20.5,521.5 21.5,519.5 22.5,516.5 23.5,514.5 24.5,513.5 25.5,512.5 26.5,513.5 27.5,514.5 28.5,515.5 29.5,517.5 30.5,519.5 31.5,520.5 32.5,522.5 33.5,524.5 34.5,525.5 35.5,527.5 36.5,529.5 37.5,531.5 38.5,534.5 39.5,537.5 40.5,540.5 41.5,543.5 42.5,546.5 43.5,549.5 44.5,551.5 45.5,553.5 46.5,554.5 47.5,554.5 48.5,554.5 49.5,553.5 50.5,552.5 51.5,550.5 52.5,548.5 53.5,545.5 54.5,542.5 55.5,539.5 56.5,536.5 57.5,533.5 58.5,530.5 59.5,527.5 60.5,524.5 61.5,521.5 62.5,519.5 63.5,517.5 64.5,515.5 65.5,514.5 66.5,512.5 67.5,511.5 68.5,511.5 69.5,510.5 70.5,510.5 71.5,509.5 72.5,508.5 73.5,506.5 74.5,505.5 75.5,505.5 76.5,506.5 77.5,507.5 78.5,509.5 79.5,512.5 80.5,516.5 81.5,520.5 82.5,525.5 83.5,530.5 84.5,535.5 85.5,540.5 86.5,545.5 87.5,550.5 88.5,554.5 89.5,557.5 90.5,560.5 91.5,563.5 92.5,566.5 93.5,568.5 94.5,570.5 95.5,572.5 96.5,572.5 97.5,573.5 98.5,573.5 99.5,573.5 100.5,572.5 101.5,570.5 102.5,569.5 103.5,567.5 104.5,564.5 105.5,561.5 106.5,558.5 107.5,554.5 108.5,551.5 109.5,547.5 110.5,544.5 111.5,541.5 112.5,539.5 113.5,537.5 114.5,537.5 115.5,538.5 116.5,540.5 117.5,543.5 118.5,547.5 119.5,551.5 120.5,555.5 121.5,559.5 122.5,563.5 123.5,566.5 124.5,569.5 125.5,571.5 126.5,572.5 127.5,573.5 128.5,573.5 129.5,573.5 130.5,571.5 131.5,570.5 132.5,568.5 133.5,565.5 134.5,562.5 135.5,559.5 136.5,555.5 137.5,551.5 138.5,547.5 139.5,543.5 140.5,540.5 141.5,536.5 142.5,533.5 143.5,531.5 144.5,529.5 145.5,528.5 146.5,528.5 147.5,528.5 148.5,529.5 149.5,530.5 150.5,531.5 151.5,532.5 152.5,533.5 153.5,534.5 154.5,534.5 155.5,535.5 156.5,535.5 157.5,535.5 158.5,535.5 159.5,534.5 160.5,534.5 161.5,534.5 162.5,534.5 163.5,535.5 164.5,535.5 165.5,536.5 166.5,537.5 167.5,537.5 168.5,538.5 169.5,539.5 170.5,540.5 171.5,541.5 172.5,541.5 173.5,541.5 174.5,540.5 175.5,539.5 176.5,538.5 177.5,536.5 178.5,534.5 179.5,532.5 180.5,531.5 181.5,529.5 182.5,528.5 183.5,527.5 184.5,526.5 185.5,526.5 186.5,526.5 187.5,525.5 188.5,525.5 189.5,526.5 190.5,526.5 191.5,526.5 192.5,528.5 193.5,530.5 194.5,532.5 195.5,534.5 196.5,537.5 197.5,540.5 198.5,543.5 199.5,546.5 200.5,548.5 201.5,550.5 202.5,550.5 203.5,551.5 204.5,550.5 205.5,549.5 206.5,548.5 207.5,547.5 208.5,545.5 209.5,543.5 210.5,541.5 211.5,539.5 212.5,537.5 213.5,536.5 214.5,535.5 215.5,534.5 216.5,534.5 217.5,535.5 218.5,536.5 219.5,537.5 220.5,539.5 221.5,540.5 222.5,542.5 223.5,544.5 224.5,545.5 225.5,547.5 226.5,549.5 227.5,550.5 228.5,552.5 229.5,553.5 230.5,554.5 231.5,554.5 232.5,554.5 233.5,554.5 234.5,553.5 235.5,552.5 236.5,550.5 237.5,548.5 238.5,547.5 239.5,545.5 240.5,543.5 241.5,541.5 242.5,540.5 243.5,539.5 244.5,538.5 245.5,537.5 246.5,536.5 247.5,535.5 248.5,535.5 249.5,534.5 250.5,533.5 251.5,533.5 252.5,532.5 253.5,532.5 254.5,531.5 255.5,531.5 256.5,531.5 257.5,531.5 258.5,531.5 259.5,531.5 260.5,531.5 261.5,531.5 262.5,531.5 263.5,532.5 264.5,532.5 265.5,533.5 266.5,533.5 267.5,533.5 268.5,533.5 269.5,534.5 270.5,534.5 271.5,534.5 272.5,534.5 273.5,534.5 274.5,534.5 275.5,534.5 276.5,535.5 277.5,535.5 278.5,535.5 279.5,535.5 280.5,535.5 281.5,535.5 282.5,535.5 283.5,534.5 284.5,534.5 285.5,533.5 286.5,532.5 287.5,532.5 288.5,531.5 289.5,531.5 290.5,531.5 291.5,531.5 292.5,531.5 293.5,530.5 294.5,529.5 295.5,529.5 296.5,528.5 297.5,528.5 298.5,527.5 299.5,526.5 300.5,526.5 301.5,525.5 302.5,525.5 303.5,526.5 304.5,526.5 305.5,526.5 306.5,527.5 307.5,527.5 308.5,527.5 309.5,528.5 310.5,528.5 311.5,528.5 312.5,529.5 313.5,530.5 314.5,531.5 315.5,533.5 316.5,535.5 317.5,537.5 318.5,539.5 319.5,541.5 320.5,542.5 321.5,543.5 322.5,543.5 323.5,543.5 324.5,542.5 325.5,542.5 326.5,541.5 327.5,540.5 328.5,540.5 329.5,540.5 330.5,540.5 331.5,540.5 332.5,540.5 333.5,540.5 334.5,540.5 335.5,540.5 336.5,540.5 337.5,540.5 338.5,539.5 339.5,538.5 340.5,537.5 341.5,536.5 342.5,534.5 343.5,533.5 344.5,532.5 345.5,530.5 346.5,530.5 347.5,529.5 348.5,529.5 349.5,529.5 350.5,529.5 351.5,530.5 352.5,530.5 353.5,531.5 354.5,532.5 355.5,532.5 356.5,533.5 357.5,533.5 358.5,533.5 359.5,533.5 360.5,534.5 361.5,533.5 362.5,533.5 363.5,533.5 364.5,533.5 365.5,533.5 366.5,533.5 367.5,533.5 368.5,533.5 369.5,533.5 370.5,533.5 371.5,533.5 372.5,533.5 373.5,533.5 374.5,532.5 375.5,531.5 376.5,531.5 377.5,530.5 378.5,530.5 379.5,530.5 380.5,530.5 381.5,529.5 382.5,529.5 383.5,529.5 384.5,530.5 385.5,530.5 386.5,530.5 387.5,530.5 388.5,530.5 389.5,530.5 390.5,530.5 391.5,530.5 392.5,530.5 393.5,530.5 394.5,530.5 395.5,530.5 396.5,531.5 397.5,531.5 398.5,531.5 399.5,532.5 400.5,533.5 401.5,535.5 402.5,537.5 403.5,540.5 404.5,544.5 405.5,548.5 406.5,553.5 407.5,557.5 408.5,562.5 409.5,566.5 410.5,569.5 411.5,571.5 412.5,572.5 413.5,572.5 414.5,572.5 415.5,570.5 416.5,569.5 417.5,567.5 418.5,565.5 419.5,564.5 420.5,562.5 421.5,561.5 422.5,559.5 423.5,558.5 424.5,556.5 425.5,554.5 426.5,553.5 427.5,551.5 428.5,550.5 429.5,548.5 430.5,547.5 431.5,545.5 432.5,544.5 433.5,542.5 434.5,541.5 435.5,539.5 436.5,538.5 437.5,536.5 438.5,535.5 439.5,533.5 440.5,532.5 441.5,530.5 442.5,529.5 443.5,528.5 444.5,527.5 445.5,527.5 446.5,526.5 447.5,526.5 448.5,526.5 449.5,527.5 450.5,528.5 451.5,529.5 452.5,530.5 453.5,532.5 454.5,533.5 455.5,535.5 456.5,536.5 457.5,537.5 458.5,539.5 459.5,540.5 460.5,541.5 461.5,543.5 462.5,544.5 463.5,545.5 464.5,546.5 465.5,547.5 466.5,548.5 467.5,548.5 468.5,549.5 469.5,549.5 470.5,549.5 471.5,549.5 472.5,548.5 473.5,548.5 474.5,547.5 475.5,547.5 476.5,546.5 477.5,545.5 478.5,545.5 479.5,544.5 480.5,543.5 481.5,542.5 482.5,542.5 483.5,542.5 484.5,542.5 485.5,542.5 486.5,543.5 487.5,543.5 488.5,544.5 489.5,545.5 490.5,546.5 491.5,546.5 492.5,547.5 493.5,547.5 494.5,547.5 495.5,546.5 496.5,546.5 497.5,545.5 498.5,544.5 499.5,544.5 500.5,543.5 501.5,542.5 502.5,541.5 503.5,540.5 504.5,540.5 505.5,539.5 506.5,538.5 507.5,537.5 508.5,536.5 509.5,536.5 510.5,535.5 511.5,534.5 512.5,534.5 513.5,534.5 514.5,534.5 515.5,535.5 516.5,535.5 517.5,536.5 518.5,537.5 519.5,538.5 520.5,539.5 521.5,539.5 522.5,540.5 523.5,540.5 524.5,540.5 525.5,540.5 526.5,541.5 527.5,542.5 528.5,543.5 529.5,545.5 530.5,547.5 531.5,550.5 532.5,554.5 533.5,559.5 534.5,564.5 535.5,569.5 536.5,574.5 537.5,579.5 538.5,582.5 539.5,585.5 540.5,586.5 541.5,587.5 542.5,586.5 543.5,585.5 544.5,583.5 545.5,580.5 546.5,577.5 547.5,573.5 548.5,570.5 549.5,567.5 550.5,564.5 551.5,561.5 552.5,558.5 553.5,556.5 554.5,554.5 555.5,553.5 556.5,551.5 557.5,549.5 558.5,548.5 559.5,545.5 560.5,543.5 561.5,541.5 562.5,539.5 563.5,537.5 564.5,535.5 565.5,534.5 566.5,533.5 567.5,533.5 568.5,533.5 569.5,533.5 570.5,535.5 571.5,536.5 572.5,538.5 573.5,541.5 574.5,543.5 575.5,545.5 576.5,547.5 577.5,549.5 578.5,550.5 579.5,551.5 580.5,551.5 581.5,551.5 582.5,550.5 583.5,549.5 584.5,548.5 585.5,546.5 586.5,544.5 587.5,542.5 588.5,541.5 589.5,540.5 590.5,539.5 591.5,538.5 592.5,538.5 593.5,538.5 594.5,538.5 595.5,538.5 596.5,539.5 597.5,539.5 598.5,539.5 599.5,540.5 600.5,540.5 601.5,540.5 602.5,540.5 603.5,540.5 604.5,540.5 605.5,540.5 606.5,540.5 607.5,539.5 608.5,539.5 609.5,539.5 610.5,539.5 611.5,538.5 612.5,538.5 613.5,537.5 614.5,537.5 615.5,536.5 616.5,536.5 617.5,536.5 618.5,536.5 619.5,536.5 620.5,536.5 621.5,537.5 622.5,537.5 623.5,538.5 624.5,539.5 625.5,540.5 626.5,541.5 627.5,542.5 628.5,543.5 629.5,544.5 630.5,545.5 631.5,546.5 632.5,547.5 633.5,548.5 634.5,549.5 635.5,550.5 636.5,550.5 637.5,551.5 638.5,552.5 639.5,552.5 640.5,553.5 641.5,553.5 642.5,553.5 643.5,553.5 644.5,553.5 645.5,553.5 646.5,553.5 647.5,553.5 648.5,553.5 649.5,553.5 650.5,552.5 651.5,552.5 652.5,551.5 653.5,550.5 654.5,549.5 655.5,547.5 656.5,546.5 657.5,545.5 658.5,544.5 659.5,544.5 660.5,544.5 661.5,544.5 662.5,545.5 663.5,546.5 664.5,547.5 665.5,549.5 666.5,550.5 667.5,551.5 668.5,552.5 669.5,553.5 670.5,554.5 671.5,554.5 672.5,554.5 673.5,554.5 674.5,554.5 675.5,554.5 676.5,555.5 677.5,555.5 678.5,557.5 679.5,558.5 680.5,560.5 681.5,562.5 682.5,565.5 683.5,568.5 684.5,570.5 685.5,573.5 686.5,576.5 687.5,579.5 688.5,581.5 689.5,584.5 690.5,586.5 691.5,587.5 692.5,589.5 693.5,589.5 694.5,590.5 695.5,589.5 696.5,589.5 697.5,587.5 698.5,586.5 699.5,584.5 700.5,582.5 701.5,580.5 702.5,578.5 703.5,575.5 704.5,573.5 705.5,571.5 706.5,569.5 707.5,567.5 708.5,565.5 709.5,563.5 710.5,562.5 711.5,561.5 712.5,559.5 713.5,558.5 714.5,557.5 715.5,555.5 716.5,553.5 717.5,551.5 718.5,550.5 719.5,548.5 720.5,546.5 721.5,543.5 722.5,541.5 723.5,539.5 724.5,537.5 725.5,536.5 726.5,534.5 727.5,532.5 728.5,531.5 729.5,529.5 730.5,528.5 731.5,527.5 732.5,527.5 733.5,527.5 734.5,526.5 735.5,527.5 736.5,527.5 737.5,528.5 738.5,529.5 739.5,530.5 740.5,532.5 741.5,533.5 742.5,534.5 743.5,535.5 744.5,536.5 745.5,538.5 746.5,539.5 747.5,540.5 748.5,541.5 749.5,543.5 750.5,545.5 751.5,548.5 752.5,550.5 753.5,553.5 754.5,556.5 755.5,558.5 756.5,560.5 757.5,562.5 758.5,563.5 759.5,564.5 760.5,564.5 761.5,564.5 762.5,565.5 763.5,565.5 764.5,565.5 765.5,566.5 766.5,567.5 767.5,568.5 768.5,570.5 769.5,571.5 770.5,572.5 771.5,573.5 772.5,574.5 773.5,575.5 774.5,574.5 775.5,574.5 776.5,572.5 777.5,570.5 778.5,567.5 779.5,563.5 780.5,559.5 781.5,555.5 782.5,550.5 783.5,545.5 784.5,541.5 785.5,537.5 786.5,534.5 787.5,532.5 788.5,530.5 789.5,529.5 790.5,528.5 791.5,528.5 792.5,528.5 793.5,528.5 794.5,528.5 795.5,528.5 796.5,528.5 797.5,529.5 798.5,529.5 799.5,529.5 800.5,529.5 801.5,529.5 802.5,529.5 803.5,528.5 804.5,528.5 805.5,528.5 806.5,528.5 807.5,528.5 808.5,529.5 809.5,529.5 810.5,529.5 811.5,529.5 812.5,529.5 813.5,529.5 814.5,529.5 815.5,529.5 816.5,528.5 817.5,528.5 818.5,528.5 819.5,528.5 820.5,529.5 821.5,530.5 822.5,532.5 823.5,533.5 824.5,535.5 825.5,537.5 826.5,539.5 827.5,540.5 828.5,541.5 829.5,542.5 830.5,543.5 831.5,543.5 832.5,542.5 833.5,542.5 834.5,542.5 835.5,541.5 836.5,540.5 837.5,540.5 838.5,540.5 839.5,540.5 840.5,540.5 841.5,541.5 842.5,542.5 843.5,542.5 844.5,543.5 845.5,544.5 846.5,545.5 847.5,545.5 848.5,545.5 849.5,545.5 850.5,546.5 851.5,547.5 852.5,548.5 853.5,550.5 854.5,552.5 855.5,554.5 856.5,557.5 857.5,561.5 858.5,564.5 859.5,567.5 860.5,569.5 861.5,571.5 862.5,572.5 863.5,573.5 864.5,572.5 865.5,572.5 866.5,571.5 867.5,571.5 868.5,570.5 869.5,569.5 870.5,570.5 871.5,570.5 872.5,571.5 873.5,571.5 874.5,572.5 875.5,573.5 876.5,573.5 877.5,573.5 878.5,573.5 879.5,572.5 880.5,572.5 881.5,571.5 882.5,570.5 883.5,569.5 884.5,568.5 885.5,567.5 886.5,566.5 887.5,565.5 888.5,564.5 889.5,563.5 890.5,562.5 891.5,561.5 892.5,560.5 893.5,558.5 894.5,556.5 895.5,554.5 896.5,551.5 897.5,549.5 898.5,547.5 899.5,545.5 900.5,544.5 901.5,543.5 902.5,542.5 903.5,541.5 904.5,540.5 905.5,540.5 906.5,540.5 907.5,540.5 908.5,539.5 909.5,539.5 910.5,539.5 911.5,538.5 912.5,538.5 913.5,537.5 914.5,537.5 915.5,536.5 916.5,536.5 917.5,535.5 918.5,535.5 919.5,534.5 920.5,534.5 921.5,533.5 922.5,533.5 923.5,532.5 924.5,532.5 925.5,531.5 926.5,530.5 927.5,530.5 928.5,530.5 929.5,529.5 930.5,529.5 931.5,529.5 932.5,529.5 933.5,530.5" stroke="#ff0000" stroke-width="1" fill="none" />
<polyline points="5.5,467.5 6.5,465.5 7.5,466.5 8.5,463.5 9.5,464.5 10.5,465.5 11.5,466.5 12.5,463.5 13.5,461.5 14.5,460.5 15.5,460.5 16.5,460.5 17.5,458.5 18.5,458.5 19.5,457.5 20.5,458.5 21.5,463.5 22.5,464.5 23.5,465.5 24.5,465.5 25.5,466.5 26.5,463.5 27.5,463.5 28.5,462.5 29.5,462.5 30.5,463.5 31.5,464.5 32.5,466.5 33.5,467.5 34.5,468.5 35.5,468.5 36.5,468.5 37.5,469.5 38.5,467.5 39.5,466.5 40.5,468.5 41.5,468.5 42.5,469.5 43.5,469.5 44.5,471.5 45.5,469.5 46.5,467.5 47.5,465.5 48.5,464.5 49.5,461.5 50.5,461.5 51.5,460.5 52.5,459.5 53.5,459.5 54.5,458.5 55.5,457.5 56.5,456.5 57.5,456.5 58.5,457.5 59.5,456.5 60.5,455.5 61.5,457.5 62.5,458.5 63.5,459.5 64.5,460.5 65.5,459.5 66.5,457.5 67.5,455.5 68.5,455.5 69.5,453.5 70.5,451.5 71.5,449.5 72.5,453.5 73.5,463.5 74.5,464.5 75.5,468.5 76.5,469.5 77.5,471.5 78.5,470.5 79.5,470.5 80.5,470.5 81.5,471.5 82.5,473.5 83.5,473.5 84.5,475.5 85.5,475.5 86.5,472.5 87.5,472.5 88.5,472.5 89.5,472.5 90.5,472.5 91.5,472.5 92.5,472.5 93.5,471.5 94.5,471.5 95.5,471.5 96.5,471.5 97.5,470.5 98.5,467.5 99.5,467.5 100.5,467.5 101.5,465.5 102.5,465.5 103.5,462.5 104.5,460.5 105.5,460.5 106.5,459.5 107.5,457.5 108.5,459.5 109.5,461.5 110.5,463.5 111.5,467.5 112.5,473.5 113.5,475.5 114.5,475.5 115.5,476.5 116.5,477.5 117.5,475.5 118.5,475.5 119.5,474.5 120.5,475.5 121.5,474.5 122.5,472.5 123.5,472.5 124.5,472.5 125.5,470.5 126.5,470.5 127.5,467.5 128.5,466.5 129.5,465.5 130.5,465.5 131.5,465.5 132.5,464.5 133.5,463.5 134.5,461.5 135.5,461.5 136.5,459.5 137.5,458.5 138.5,455.5 139.5,460.5 140.5,461.5 141.5,462.5 142.5,464.5 143.5,464.5 144.5,463.5 145.5,465.5 146.5,466.5 147.5,466.5 148.5,465.5 149.5,465.5 150.5,466.5 151.5,467.5 152.5,467.5 153.5,464.5 154.5,462.5 155.5,461.5 156.5,461.5 157.5,461.5 158.5,459.5 159.5,459.5 160.5,463.5 161.5,465.5 162.5,464.5 163.5,465.5 164.5,463.5 165.5,464.5 166.5,466.5 167.5,465.5 168.5,467.5 169.5,466.5 170.5,462.5 171.5,462.5 172.5,460.5 173.5,461.5 174.5,459.5 175.5,460.5 176.5,460.5 177.5,461.5 178.5,461.5 179.5,461.5 180.5,461.5 181.5,461.5 182.5,460.5 183.5,460.5 184.5,459.5 185.5,459.5 186.5,458.5 187.5,460.5 188.5,460.5 189.5,466.5 190.5,470.5 191.5,473.5 192.5,473.5 193.5,472.5 194.5,470.5 195.5,468.5 196.5,469.5 197.5,470.5 198.5,468.5 199.5,467.5 200.5,465.5 201.5,464.5 202.5,462.5 203.5,462.5 204.5,462.5 205.5,461.5 206.5,462.5 207.5,463.5 208.5,460.5 209.5,460.5 210.5,461.5 211.5,463.5 212.5,465.5 213.5,464.5 214.5,465.5 215.5,465.5 216.5,467.5 217.5,469.5 218.5,468.5 219.5,469.5 220.5,468.5 221.5,467.5 222.5,468.5 223.5,469.5 224.5,471.5 225.5,470.5 226.5,472.5 227.5,472.5 228.5,471.5 229.5,472.5 230.5,469.5 231.5,468.5 232.5,465.5 233.5,464.5 234.5,462.5 235.5,461.5 236.5,462.5 237.5,462.5 238.5,464.5 239.5,464.5 240.5,463.5 241.5,461.5 242.5,462.5 243.5,461.5 244.5,462.5 245.5,461.5 246.5,460.5 247.5,458.5 248.5,459.5 249.5,461.5 250.5,463.5 251.5,461.5 252.5,462.5 253.5,460.5 254.5,460.5 255.5,459.5 256.5,461.5 257.5,462.5 258.5,463.5 259.5,465.5 260.5,465.5 261.5,463.5 262.5,463.5 263.5,461.5 264.5,461.5 265.5,460.5 266.5,459.5 267.5,460.5 268.5,460.5 269.5,462.5 270.5,464.5 271.5,464.5 272.5,464.5 273.5,462.5 274.5,462.5 275.5,461.5 276.5,459.5 277.5,458.5 278.5,457.5 279.5,456.5 280.5,455.5 281.5,461.5 282.5,461.5 283.5,462.5 284.5,461.5 285.5,461.5 286.5,461.5 287.5,462.5 288.5,465.5 289.5,461.5 290.5,461.5 291.5,460.5 292.5,458.5 293.5,455.5 294.5,454.5 295.5,454.5 296.5,459.5 297.5,457.5 298.5,458.5 299.5,458.5 300.5,460.5 301.5,461.5 302.5,462.5 303.5,462.5 304.5,462.5 305.5,460.5 306.5,461.5 307.5,460.5 308.5,460.5 309.5,460.5 310.5,461.5 311.5,465.5 312.5,470.5 313.5,476.5 314.5,474.5 315.5,470.5 316.5,469.5 317.5,466.5 318.5,464.5 319.5,465.5 320.5,464.5 321.5,463.5 322.5,461.5 323.5,465.5 324.5,466.5 325.5,463.5 326.5,465.5 327.5,466.5 328.5,467.5 329.5,468.5 330.5,467.5 331.5,466.5 332.5,465.5 333.5,462.5 334.5,461.5 335.5,462.5 336.5,462.5 337.5,462.5 338.5,460.5 339.5,461.5 340.5,457.5 341.5,456.5 342.5,457.5 343.5,458.5 344.5,460.5 345.5,463.5 346.5,465.5 347.5,465.5 348.5,464.5 349.5,462.5 350.5,462.5 351.5,463.5 352.5,464.5 353.5,462.5 354.5,460.5 355.5,462.5 356.5,461.5 357.5,461.5 358.5,461.5 359.5,462.5 360.5,464.5 361.5,464.5 362.5,464.5 363.5,463.5 364.5,460.5 365.5,459.5 366.5,460.5 367.5,461.5 368.5,460.5 369.5,459.5 370.5,459.5 371.5,461.5 372.5,462.5 373.5,458.5 374.5,457.5 375.5,458.5 376.5,461.5 377.5,462.5 378.5,465.5 379.5,464.5 380.5,463.5 381.5,462.5 382.5,462.5 383.5,460.5 384.5,460.5 385.5,459.5 386.5,458.5 387.5,459.5 388.5,460.5 389.5,459.5 390.5,460.5 391.5,461.5 392.5,460.5 393.5,460.5 394.5,459.5 395.5,460.5 396.5,458.5 397.5,461.5 398.5,467.5 399.5,473.5 400.5,475.5 401.5,479.5 402.5,478.5 403.5,475.5 404.5,476.5 405.5,481.5 406.5,478.5 407.5,474.5 408.5,473.5 409.5,468.5 410.5,468.5 411.5,468.5 412.5,470.5 413.5,469.5 414.5,468.5 415.5,468.5 416.5,468.5 417.5,467.5 418.5,467.5 419.5,467.5 420.5,466.5 421.5,466.5 422.5,467.5 423.5,467.5 424.5,467.5 425.5,466.5 426.5,466.5 427.5,465.5 428.5,465.5 429.5,465.5 430.5,463.5 431.5,461.5 432.5,460.5 433.5,460.5 434.5,460.5 435.5,458.5 436.5,460.5 437.5,458.5 438.5,457.5 439.5,456.5 440.5,456.5 441.5,457.5 442.5,458.5 443.5,462.5 444.5,463.5 445.5,464.5 446.5,465.5 447.5,465.5 448.5,466.5 449.5,465.5 450.5,467.5 451.5,465.5 452.5,464.5 453.5,468.5 454.5,468.5 455.5,471.5 456.5,470.5 457.5,472.5 458.5,474.5 459.5,477.5 460.5,472.5 461.5,467.5 462.5,466.5 463.5,467.5 464.5,470.5 465.5,471.5 466.5,470.5 467.5,467.5 468.5,466.5 469.5,468.5 470.5,467.5 471.5,466.5 472.5,465.5 473.5,465.5 474.5,464.5 475.5,463.5 476.5,463.5 477.5,463.5 478.5,462.5 479.5,464.5 480.5,466.5 481.5,468.5 482.5,469.5 483.5,471.5 484.5,472.5 485.5,469.5 486.5,470.5 487.5,470.5 488.5,468.5 489.5,468.5 490.5,468.5 491.5,466.5 492.5,465.5 493.5,461.5 494.5,461.5 495.5,460.5 496.5,463.5 497.5,464.5 498.5,466.5 499.5,463.5 500.5,463.5 501.5,461.5 502.5,460.5 503.5,462.5 504.5,461.5 505.5,460.5 506.5,459.5 507.5,459.5 508.5,459.5 509.5,460.5 510.5,460.5 511.5,460.5 512.5,466.5 513.5,467.5 514.5,467.5 515.5,467.5 516.5,468.5 517.5,468.5 518.5,469.5 519.5,468.5 520.5,467.5 521.5,464.5 522.5,463.5 523.5,459.5 524.5,463.5 525.5,471.5 526.5,475.5 527.5,477.5 528.5,478.5 529.5,478.5 530.5,480.5 531.5,481.5 532.5,481.5 533.5,482.5 534.5,480.5 535.5,478.5 536.5,476.5 537.5,476.5 538.5,472.5 539.5,473.5 540.5,472.5 541.5,470.5 542.5,468.5 543.5,466.5 544.5,465.5 545.5,465.5 546.5,466.5 547.5,466.5 548.5,467.5 549.5,467.5 550.5,465.5 551.5,466.5 552.5,465.5 553.5,465.5 554.5,464.5 555.5,462.5 556.5,460.5 557.5,458.5 558.5,459.5 559.5,460.5 560.5,461.5 561.5,462.5 562.5,464.5 563.5,465.5 564.5,464.5 565.5,464.5 566.5,464.5 567.5,465.5 568.5,466.5 569.5,468.5 570.5,469.5 571.5,468.5 572.5,470.5 573.5,471.5 574.5,472.5 575.5,470.5 576.5,468.5 577.5,467.5 578.5,465.5 579.5,464.5 580.5,462.5 581.5,461.5 582.5,461.5 583.5,461.5 584.5,462.5 585.5,463.5 586.5,462.5 587.5,463.5 588.5,466.5 589.5,465.5 590.5,465.5 591.5,465.5 592.5,465.5 593.5,464.5 594.5,465.5 595.5,467.5 596.5,466.5 597.5,465.5 598.5,464.5 599.5,463.5 600.5,463.5 601.5,460.5 602.5,461.5 603.5,463.5 604.5,467.5 605.5,468.5 606.5,467.5 607.5,465.5 608.5,462.5 609.5,463.5 610.5,461.5 611.5,460.5 612.5,459.5 613.5,461.5 614.5,463.5 615.5,463.5 616.5,466.5 617.5,465.5 618.5,466.5 619.5,467.5 620.5,470.5 621.5,470.5 622.5,470.5 623.5,469.5 624.5,469.5 625.5,467.5 626.5,466.5 627.5,466.5 628.5,467.5 629.5,470.5 630.5,472.5 631.5,473.5 632.5,473.5 633.5,472.5 634.5,470.5 635.5,470.5 636.5,468.5 637.5,470.5 638.5,470.5 639.5,473.5 640.5,474.5 641.5,472.5 642.5,474.5 643.5,473.5 644.5,472.5 645.5,471.5 646.5,470.5 647.5,466.5 648.5,466.5 649.5,464.5 650.5,464.5 651.5,461.5 652.5,462.5 653.5,464.5 654.5,465.5 655.5,467.5 656.5,469.5 657.5,468.5 658.5,469.5 659.5,471.5 660.5,473.5 661.5,476.5 662.5,474.5 663.5,473.5 664.5,473.5 665.5,474.5 666.5,474.5 667.5,470.5 668.5,466.5 669.5,468.5 670.5,469.5 671.5,471.5 672.5,471.5 673.5,473.5 674.5,475.5 675.5,477.5 676.5,479.5 677.5,480.5 678.5,480.5 679.5,481.5 680.5,480.5 681.5,479.5 682.5,479.5 683.5,478.5 684.5,477.5 685.5,479.5 686.5,482.5 687.5,483.5 688.5,480.5 689.5,478.5 690.5,476.5 691.5,476.5 692.5,476.5 693.5,474.5 694.5,476.5 695.5,476.5 696.5,475.5 697.5,476.5 698.5,478.5 699.5,474.5 700.5,473.5 701.5,469.5 702.5,468.5 703.5,468.5 704.5,469.5 705.5,469.5 706.5,470.5 707.5,471.5 708.5,470.5 709.5,468.5 710.5,463.5 711.5,464.5 712.5,464.5 713.5,466.5 714.5,465.5 715.5,463.5 716.5,462.5 717.5,461.5 718.5,459.5 719.5,460.5 720.5,460.5 721.5,461.5 722.5,461.5 723.5,461.5 724.5,460.5 725.5,459.5 726.5,459.5 727.5,456.5 728.5,455.5 729.5,457.5 730.5,458.5 731.5,461.5 732.5,465.5 733.5,466.5 734.5,466.5 735.5,466.5 736.5,467.5 737.5,467.5 738.5,466.5 739.5,463.5 740.5,463.5 741.5,464.5 742.5,466.5 743.5,467.5 744.5,471.5 745.5,475.5 746.5,476.5 747.5,478.5 748.5,479.5 749.5,480.5 750.5,478.5 751.5,474.5 752.5,473.5 753.5,473.5 754.5,472.5 755.5,472.5 756.5,471.5 757.5,473.5 758.5,473.5 759.5,473.5 760.5,474.5 761.5,474.5 762.5,476.5 763.5,478.5 764.5,479.5 765.5,480.5 766.5,481.5 767.5,480.5 768.5,478.5 769.5,478.5 770.5,477.5 771.5,477.5 772.5,477.5 773.5,470.5 774.5,464.5 775.5,463.5 776.5,461.5 777.5,461.5 778.5,459.5 779.5,459.5 780.5,457.5 781.5,457.5 782.5,457.5 783.5,457.5 784.5,458.5 785.5,461.5 786.5,463.5 787.5,463.5 788.5,463.5 789.5,463.5 790.5,464.5 791.5,464.5 792.5,463.5 793.5,462.5 794.5,461.5 795.5,460.5 796.5,461.5 797.5,460.5 798.5,460.5 799.5,460.5 800.5,458.5 801.5,459.5 802.5,459.5 803.5,459.5 804.5,460.5 805.5,462.5 806.5,461.5 807.5,462.5 808.5,462.5 809.5,459.5 810.5,458.5 811.5,456.5 812.5,455.5 813.5,454.5 814.5,456.5 815.5,458.5 816.5,462.5 817.5,466.5 818.5,468.5 819.5,471.5 820.5,472.5 821.5,473.5 822.5,471.5 823.5,470.5 824.5,466.5 825.5,466.5 826.5,465.5 827.5,464.5 828.5,467.5 829.5,466.5 830.5,465.5 831.5,464.5 832.5,466.5 833.5,465.5 834.5,463.5 835.5,464.5 836.5,467.5 837.5,469.5 838.5,471.5 839.5,471.5 840.5,470.5 841.5,468.5 842.5,468.5 843.5,466.5 844.5,466.5 845.5,466.5 846.5,465.5 847.5,467.5 848.5,469.5 849.5,473.5 850.5,475.5 851.5,477.5 852.5,478.5 853.5,477.5 854.5,478.5 855.5,480.5 856.5,481.5 857.5,481.5 858.5,479.5 859.5,476.5 860.5,473.5 861.5,472.5 862.5,470.5 863.5,470.5 864.5,471.5 865.5,473.5 866.5,474.5 867.5,475.5 868.5,475.5 869.5,477.5 870.5,477.5 871.5,476.5 872.5,477.5 873.5,476.5 874.5,473.5 875.5,472.5 876.5,472.5 877.5,473.5 878.5,472.5 879.5,472.5 880.5,471.5 881.5,472.5 882.5,473.5 883.5,473.5 884.5,471.5 885.5,470.5 886.5,470.5 887.5,470.5 888.5,468.5 889.5,467.5 890.5,466.5 891.5,465.5 892.5,464.5 893.5,463.5 894.5,461.5 895.5,461.5 896.5,460.5 897.5,464.5 898.5,467.5 899.5,465.5 900.5,463.5 901.5,464.5 902.5,464.5 903.5,466.5 904.5,465.5 905.5,465.5 906.5,464.5 907.5,463.5 908.5,465.5 909.5,464.5 910.5,461.5 911.5,460.5 912.5,462.5 913.5,462.5 914.5,461.5 915.5,462.5 916.5,464.5 917.5,464.5 918.5,463.5 919.5,461.5 920.5,460.5 921.5,459.5 922.5,459.5 923.5,457.5 924.5,458.5 925.5,459.5 926.5,460.5 927.5,459.5 928.5,460.5 929.5,459.5 930.5,460.5 931.5,461.5 932.5,461.5 933.5,463.5" stroke="#1e90ff" stroke-width="1" fill="none" />
<g fill="none">
<path d="M489 34.5h1M490 35.5h1M491 35.5h1M492 36.5h1M493 37.5h1M494 38.5h1M495 38.5h1M496 39.5h1M497 40.5h1M498 41.5h1M499 41.5h1M500 42.5h1M501 43.5h1M502 43.5h1M503 44.5h1M504 45.5h1M505 46.5h1M506 46.5h1M507 47.5h1M508 48.5h1M509 49.5h1M510 49.5h1M511 50.5h1M512 51.5h1M513 51.5h1M514 52.5h1M515 53.5h1M516 54.5h1M517 54.5h1M518 55.5h1M519 56.5h1M520 57.5h1M521 57.5h1M522 58.5h1M523 59.5h1M524 59.5h1M525 60.5h1M526 61.5h1M527 62.5h1M528 62.5h1M529 63.5h1M530 64.5h1M531 65.5h1M532 65.5h1M533 66.5h1M534 67.5h1M535 67.5h1M536 68.5h1M537 69.5h1M538 70.5h1M539 70.5h1M540 71.5h1M541 72.5h1M542 73.5h1M543 73.5h1M544 74.5h1M545 75.5h1M546 75.5h1M547 76.5h1M548 77.5h1M549 78.5h1M550 78.5h1M551 79.5h1M552 80.5h1M553 81.5h1M554 81.5h1M555 82.5h1M556 83.5h1M557 83.5h1M558 84.5h1M559 85.5h1M560 86.5h1M561 86.5h1M562 87.5h1M563 88.5h1M564 89.5h1M565 89.5h1M566 90.5h1M567 91.5h1M568 91.5h1M569 92.5h1M570 93.5h1M571 94.5h1M572 94.5h1M573 95.5h1M574 96.5h1M575 97.5h1M576 97.5h1M577 98.5h1M578 99.5h1M579 99.5h1M580 100.5h1M581 101.5h1M582 102.5h1M583 102.5h1M584 103.5h1M585 104.5h1M586 105.5h1M587 105.5h1M588 106.5h1M589 107.5h1M590 107.5h1M591 108.5h1M592 109.5h1M593 110.5h1M594 110.5h1M595 111.5h1M596 112.5h1M597 113.5h1M598 113.5h1M599 114.5h1M600 115.5h1M601 115.5h1M602 116.5h1M603 117.5h1M604 118.5h1M605 118.5h1M606 119.5h1M607 120.5h1M608 121.5h1M609 121.5h1M610 122.5h1M611 123.5h1M612 123.5h1M613 124.5h1M614 125.5h1M615 126.5h1M616 126.5h1M617 127.5h1M618 128.5h1M619 129.5h1M620 129.5h1M621 130.5h1M622 131.5h1M623 131.5h1M624 132.5h1M625 133.5h1M626 134.5h1M627 134.5h1M628 135.5h1M629 136.5h1M630 136.5h1M631 137.5h1M632 138.5h1M633 139.5h1M634 139.5h1M635 140.5h1M636 141.5h1M637 142.5h1M638 142.5h1M639 143.5h1M640 144.5h1M641 144.5h1M642 145.5h1M643 146.5h1M644 147.5h1M645 147.5h1M646 148.5h1M647 149.5h1M648 150.5h1M649 150.5h1M650 151.5h1M651 152.5h1M652 152.5h1M653 153.5h1M654 154.5h1M655 155.5h1M656 155.5h1M657 156.5h1M658 157.5h1M659 158.5h1M660 158.5h1M661 159.5h1M662 160.5h1M663 160.5h1M664 161.5h1M665 162.5h1M666 163.5h1M667 163.5h1M668 164.5h1M669 165.5h1M670 166.5h1M671 166.5h1M672 167.5h1M673 168.5h1M674 168.5h1M675 169.5h1M676 170.5h1M677 171.5h1M678 171.5h1M679 172.5h1M680 173.5h1M681 174.5h1M682 174.5h1M683 175.5h1M684 176.5h1M685 176.5h1M686 177.5h1M687 178.5h1M688 179.5h1M689 179.5h1M690 180.5h1M691 181.5h1M692 182.5h1M693 182.5h1M694 183.5h1M695 184.5h1M696 184.5h1M697 185.5h1M698 186.5h1M699 187.5h1M700 187.5h1M701 188.5h1M702 189.5h1M703 190.5h1M704 190.5h1M705 191.5h1M706 192.5h1M707 192.5h1M708 193.5h1M709 194.5h1M710 195.5h1M711 195.5h1M712 196.5h1M713 197.5h1M714 198.5h1M715 198.5h1M716 199.5h1M717 200.5h1M718 200.5h1M719 201.5h1M720 202.5h1M721 203.5h1M722 203.5h1M723 204.5h1M724 205.5h1M725 206.5h1M726 206.5h1M727 207.5h1M728 208.5h1M729 208.5h1M730 209.5h1M731 210.5h1M732 211.5h1M733 211.5h1M734 212.5h1M735 213.5h1M736 214.5h1M737 214.5h1M738 215.5h1M739 216.5h1M740 216.5h1M741 217.5h1M742 218.5h1M743 219.5h1M744 219.5h1M745 220.5h1M746 221.5h1M747 222.5h1M748 222.5h1M749 223.5h1M750 224.5h1M751 224.5h1M752 225.5h1M753 226.5h1M754 227.5h1M755 227.5h1M756 228.5h1M757 229.5h1M758 230.5h1M759 230.5h1M760 231.5h1M761 232.5h1M762 232.5h1M763 233.5h1M764 234.5h1M765 235.5h1M766 235.5h1M767 236.5h1M768 237.5h1M769 238.5h1M770 238.5h1M771 239.5h1M772 240.5h1M773 240.5h1M774 241.5h1M775 242.5h1M776 243.5h1M777 243.5h1M778 244.5h1M779 245.5h1M780 246.5h1M781 246.5h1M782 247.5h1M783 248.5h1M784 248.5h1M785 249.5h1M786 250.5h1M787 251.5h1M788 251.5h1M789 252.5h1M790 253.5h1M791 254.5h1M792 254.5h1M793 255.5h1M794 256.5h1M795 256.5h1M796 257.5h1M797 258.5h1M798 259.5h1M799 259.5h1M800 260.5h1M801 261.5h1M802 262.5h1M803 262.5h1M804 263.5h1M805 264.5h1M806 264.5h1M807 265.5h1M808 266.5h1M809 267.5h1M810 267.5h1M811 268.5h1M812 269.5h1M813 270.5h1M814 270.5h1M815 271.5h1M816 272.5h1M817 272.5h1M818 273.5h1M819 274.5h1M820 275.5h1M821 275.5h1M822 276.5h1M823 277.5h1M824 278.5h1M825 278.5h1M826 279.5h1M827 280.5h1M828 280.5h1M829 281.5h1M830 282.5h1M831 283.5h1M832 283.5h1M833 284.5h1M834 285.5h1M835 286.5h1M836 286.5h1M837 287.5h1M838 288.5h1M839 288.5h1M840 289.5h1M841 290.5h1M842 291.5h1M843 291.5h1M844 292.5h1M845 293.5h1M846 294.5h1M847 294.5h1M848 295.5h1M849 296.5h1M850 296.5h1M851 297.5h1M852 298.5h1M853 299.5h1M854 299.5h1M855 300.5h1M856 301.5h1M857 302.5h1M858 302.5h1M859 303.5h1M860 304.5h1M861 304.5h1M862 305.5h1M863 306.5h1M864 307.5h1M865 307.5h1M866 308.5h1M867 309.5h1M868 310.5h1M869 310.5h1M870 311.5h1M871 312.5h1M872 312.5h1M873 313.5h1M874 314.5h1M875 315.5h1M876 315.5h1M877 316.5h1M878 317.5h1M879 318.5h1M880 318.5h1M881 319.5h1M882 320.5h1M883 320.5h1M884 321.5h1M885 322.5h1M886 323.5h1M887 323.5h1M888 324.5h1M889 325.5h1M890 326.5h1M891 326.5h1M892 327.5h1M893 328.5h1M894 328.5h1M895 329.5h1M896 330.5h1M897 331.5h1M898 331.5h1M899 332.5h1M900 333.5h1M901 334.5h1M902 334.5h1M903 335.5h1M904 336.5h1M905 336.5h1M906 337.5h1M907 338.5h1M908 339.5h1M909 339.5h1M910 340.5h1M911 341.5h1M912 341.5h1M913 342.5h1M914 343.5h1M915 344.5h1M916 344.5h1M917 345.5h1M918 346.5h1M919 347.5h1M920 347.5h1M921 348.5h1M922 349.5h1M923 349.5h1M924 350.5h1M925 351.5h1M926 352.5h1M927 352.5h1M928 353.5h1M929 354.5h1M930 355.5h1M931 355.5h1M932 356.5h1M933 357.5h1M934 357.5h1M935 358.5h1M936 359.5h1M937 360.5h1M938 360.5h1M939 361.5h1M940 362.5h1M941 363.5h1M942 363.5h1M943 364.5h1M944 365.5h1M945 365.5h1M946 366.5h1M947 367.5h1M948 368.5h1M949 368.5h1M950 369.5h1M951 370.5h1M952 371.5h1M953 371.5h1M954 372.5h1M955 373.5h1M956 373.5h1M957 374.5h1M958 375.5h1M959 376.5h1M960 376.5h1M961 377.5h1M962 378.5h1M963 379.5h1M964 379.5h1M965 380.5h1M966 381.5h1M967 381.5h1M968 382.5h1M969 383.5h1M970 384.5h1M971 384.5h1M972 385.5h1M973 386.5h1M974 387.5h1M975 387.5h1M976 388.5h1M977 389.5h1M978 389.5h1M979 390.5h1M980 391.5h1M981 392.5h1M982 392.5h1M983 393.5h1M984 394.5h1M985 395.5h1M986 395.5h1M987 396.5h1M988 397.5h1M989 397.5h1M990 398.5h1M991 399.5h1M992 400.5h1M993 400.5h1M994 401.5h1M995 402.5h1M996 403.5h1M997 403.5h1M998 404.5h1M999 405.5h1M1000 405.5h1M1001 406.5h1M1002 407.5h1M1003 408.5h1M1004 408.5h1M1005 409.5h1M1006 410.5h1M1007 411.5h1M1008 411.5h1M1009 412.5h1M1010 413.5h1M1011 413.5h1M1012 414.5h1M1013 415.5h1M1014 416.5h1M1015 416.5h1M1016 417.5h1M1017 418.5h1M1018 419.5h1M1019 419.5h1M1020 420.5h1M1021 421.5h1M1022 421.5h1M1023 422.5h1M1024 423.5h1M1025 424.5h1M1026 424.5h1M1027 425.5h1M1028 426.5h1M1029 427.5h1M1030 427.5h1M1031 428.5h1M1032 429.5h1M1033 429.5h1M1034 430.5h1M1035 431.5h1M1036 432.5h1M1037 432.5h1M1038 433.5h1M1039 434.5h1M1040 435.5h1M1041 435.5h1" stroke="#ff0000" stroke-width="1"/>
<path d="M680 289H1005" stroke="#ff2020" stroke-width="2"/>
<path d="M684 348H999" stroke="#8cc800" stroke-width="2"/>
<path d="M739 425H1040" stroke="#1e82dc" stroke-width="2"/>
</g>
<path d="M8 40h7l-3.5 4z" fill="#000" shape-rendering="auto"/>
<rect x="1169" y="355" width="41" height="11" fill="#000"/>
<path d="M1186 627.5v7l-3.5-3.5z" fill="#a8a8a8" shape-rendering="auto"/>
<path d="M1202 627.5v7l3.5-3.5z" fill="#000" shape-rendering="auto"/>
</svg>
<div class="t" style="left:20px;top:36.6px;letter-spacing:-0.15px">USDCNH,H4  6.73046 6.73111 6.72668 6.72731</div>
<div class="t" style="left:9px;top:442.6px">RSI(14) 55.4682</div>
<div class="t" style="left:9px;top:498.5px">MACD(12,26,9) 0.005757 0.006817</div>
<!-- price axis -->
<div class="t" style="left:1173px;top:32.6px">6.99230</div>
<div class="t" style="left:1173px;top:65.6px">6.96590</div>
<div class="t" style="left:1173px;top:98.6px">6.93870</div>
<div class="t" style="left:1173px;top:131.6px">6.91150</div>
<div class="t" style="left:1173px;top:164.6px">6.88430</div>
<div class="t" style="left:1173px;top:197.6px">6.85710</div>
<div class="t" style="left:1173px;top:230.6px">6.82990</div>
<div class="t" style="left:1173px;top:263.6px">6.80270</div>
<div class="t" style="left:1173px;top:296.6px">6.77550</div>
<div class="t" style="left:1173px;top:329.6px">6.74830</div>
<div class="t" style="left:1173px;top:362.6px">6.72110</div>
<div class="t" style="left:1173px;top:395.6px">6.69390</div>
<div class="t" style="left:1173px;top:428.6px">6.66750</div>
<div class="t" style="left:1173px;top:355.6px;color:#fff;z-index:3">6.72731</div>
<div class="t" style="left:1171px;top:440.6px">100</div>
<div class="t" style="left:1171px;top:450.6px">70</div>
<div class="t" style="left:1171px;top:471.5px">30</div>
<div class="t" style="left:1171px;top:480.6px">0</div>
<div class="t" style="left:1171px;top:496.6px">0.024372</div>
<div class="t" style="left:1171px;top:537.6px">0.00</div>
<div class="t" style="left:1171px;top:587.6px;letter-spacing:-0.4px">-0.029423</div>
<!-- time axis -->
<div class="t" style="left:4px;top:604px">31 Jul 2018</div>
<div class="t" style="left:68px;top:604px">15 Aug 12:00</div>
<div class="t" style="left:132px;top:604px">30 Aug 04:00</div>
<div class="t" style="left:196px;top:604px">14 Sep 00:00</div>
<div class="t" style="left:260px;top:604px">1 Oct 08:00</div>
<div class="t" style="left:324px;top:604px">16 Oct 04:00</div>
<div class="t" style="left:388px;top:604px">31 Oct 00:00</div>
<div class="t" style="left:452px;top:604px">15 Nov 00:00</div>
<div class="t" style="left:516px;top:604px">29 Nov 20:00</div>
<div class="t" style="left:580px;top:604px">14 Dec 16:00</div>
<div class="t" style="left:644px;top:604px">2 Jan 12:00</div>
<div class="t" style="left:708px;top:604px">17 Jan 08:00</div>
<div class="t" style="left:772px;top:604px">1 Feb 08:00</div>
<div class="t" style="left:836px;top:604px">16 Feb 00:00</div>
<div class="t" style="left:900px;top:604px">4 Mar 20:00</div>
</body></html>
